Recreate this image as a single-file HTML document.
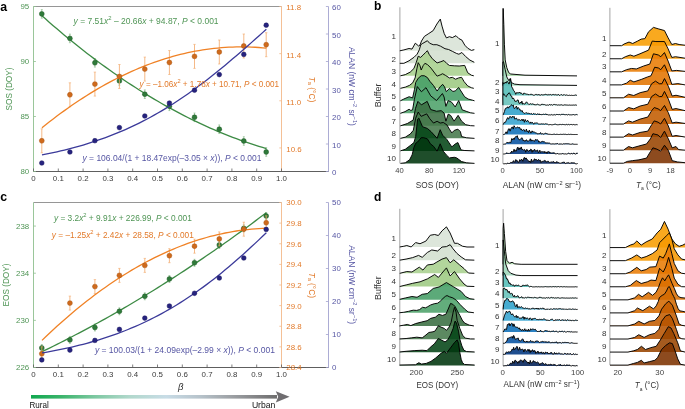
<!DOCTYPE html>
<html><head><meta charset="utf-8"><style>
html,body{margin:0;padding:0;background:#fff;}
svg{display:block;font-family:'Liberation Sans', sans-serif;will-change:transform;}
</style></head><body>
<svg width="685" height="409" viewBox="0 0 685 409" font-family="Liberation Sans, sans-serif">
<rect width="685" height="409" fill="#fff"/>
<line x1="33.5" y1="6.5" x2="281.5" y2="6.5" stroke="#8a8a8a" stroke-width="0.9" />
<line x1="33.5" y1="6.5" x2="33.5" y2="171.5" stroke="#8fbf8f" stroke-width="0.9" />
<line x1="281.5" y1="6.5" x2="281.5" y2="171.5" stroke="#f3b98a" stroke-width="0.9" />
<line x1="328.5" y1="6.5" x2="328.5" y2="171.5" stroke="#a3a3cf" stroke-width="0.9" />
<line x1="33.5" y1="171.5" x2="328.5" y2="171.5" stroke="#5e5e5e" stroke-width="1.0" />
<line x1="33.5" y1="171.5" x2="33.5" y2="168.5" stroke="#555" stroke-width="0.75" />
<text x="33.5" y="180.5" font-size="7.9" fill="#3a3a3a" text-anchor="middle" >0</text>
<line x1="58.3" y1="171.5" x2="58.3" y2="168.5" stroke="#555" stroke-width="0.75" />
<text x="58.3" y="180.5" font-size="7.9" fill="#3a3a3a" text-anchor="middle" >0.1</text>
<line x1="83.1" y1="171.5" x2="83.1" y2="168.5" stroke="#555" stroke-width="0.75" />
<text x="83.1" y="180.5" font-size="7.9" fill="#3a3a3a" text-anchor="middle" >0.2</text>
<line x1="107.9" y1="171.5" x2="107.9" y2="168.5" stroke="#555" stroke-width="0.75" />
<text x="107.9" y="180.5" font-size="7.9" fill="#3a3a3a" text-anchor="middle" >0.3</text>
<line x1="132.7" y1="171.5" x2="132.7" y2="168.5" stroke="#555" stroke-width="0.75" />
<text x="132.7" y="180.5" font-size="7.9" fill="#3a3a3a" text-anchor="middle" >0.4</text>
<line x1="157.5" y1="171.5" x2="157.5" y2="168.5" stroke="#555" stroke-width="0.75" />
<text x="157.5" y="180.5" font-size="7.9" fill="#3a3a3a" text-anchor="middle" >0.5</text>
<line x1="182.3" y1="171.5" x2="182.3" y2="168.5" stroke="#555" stroke-width="0.75" />
<text x="182.3" y="180.5" font-size="7.9" fill="#3a3a3a" text-anchor="middle" >0.6</text>
<line x1="207.1" y1="171.5" x2="207.1" y2="168.5" stroke="#555" stroke-width="0.75" />
<text x="207.1" y="180.5" font-size="7.9" fill="#3a3a3a" text-anchor="middle" >0.7</text>
<line x1="231.9" y1="171.5" x2="231.9" y2="168.5" stroke="#555" stroke-width="0.75" />
<text x="231.9" y="180.5" font-size="7.9" fill="#3a3a3a" text-anchor="middle" >0.8</text>
<line x1="256.7" y1="171.5" x2="256.7" y2="168.5" stroke="#555" stroke-width="0.75" />
<text x="256.7" y="180.5" font-size="7.9" fill="#3a3a3a" text-anchor="middle" >0.9</text>
<line x1="281.5" y1="171.5" x2="281.5" y2="168.5" stroke="#555" stroke-width="0.75" />
<text x="281.5" y="180.5" font-size="7.9" fill="#3a3a3a" text-anchor="middle" >1.0</text>
<line x1="33.5" y1="171.5" x2="35.9" y2="171.5" stroke="#8fbf8f" stroke-width="0.8" />
<text x="29.2" y="174.4" font-size="7.9" fill="#4f9555" text-anchor="end" >80</text>
<line x1="33.5" y1="116.5" x2="35.9" y2="116.5" stroke="#8fbf8f" stroke-width="0.8" />
<text x="29.2" y="119.4" font-size="7.9" fill="#4f9555" text-anchor="end" >85</text>
<line x1="33.5" y1="61.5" x2="35.9" y2="61.5" stroke="#8fbf8f" stroke-width="0.8" />
<text x="29.2" y="64.4" font-size="7.9" fill="#4f9555" text-anchor="end" >90</text>
<line x1="33.5" y1="6.5" x2="35.9" y2="6.5" stroke="#8fbf8f" stroke-width="0.8" />
<text x="29.2" y="9.4" font-size="7.9" fill="#4f9555" text-anchor="end" >95</text>
<line x1="279.3" y1="147.93" x2="281.5" y2="147.93" stroke="#f3b98a" stroke-width="0.8" />
<text x="286.3" y="151.83" font-size="7.9" fill="#e27a2a" text-anchor="start" >10.6</text>
<line x1="279.3" y1="100.79" x2="281.5" y2="100.79" stroke="#f3b98a" stroke-width="0.8" />
<text x="286.3" y="104.69" font-size="7.9" fill="#e27a2a" text-anchor="start" >11.0</text>
<line x1="279.3" y1="53.64" x2="281.5" y2="53.64" stroke="#f3b98a" stroke-width="0.8" />
<text x="286.3" y="57.54" font-size="7.9" fill="#e27a2a" text-anchor="start" >11.4</text>
<line x1="279.3" y1="6.5" x2="281.5" y2="6.5" stroke="#f3b98a" stroke-width="0.8" />
<text x="286.3" y="10.4" font-size="7.9" fill="#e27a2a" text-anchor="start" >11.8</text>
<line x1="325.9" y1="171.5" x2="328.5" y2="171.5" stroke="#a3a3cf" stroke-width="0.8" />
<text x="332.1" y="175" font-size="7.9" fill="#5656a3" text-anchor="start" >0</text>
<line x1="325.9" y1="144" x2="328.5" y2="144" stroke="#a3a3cf" stroke-width="0.8" />
<text x="332.1" y="147.5" font-size="7.9" fill="#5656a3" text-anchor="start" >10</text>
<line x1="325.9" y1="116.5" x2="328.5" y2="116.5" stroke="#a3a3cf" stroke-width="0.8" />
<text x="332.1" y="120" font-size="7.9" fill="#5656a3" text-anchor="start" >20</text>
<line x1="325.9" y1="89" x2="328.5" y2="89" stroke="#a3a3cf" stroke-width="0.8" />
<text x="332.1" y="92.5" font-size="7.9" fill="#5656a3" text-anchor="start" >30</text>
<line x1="325.9" y1="61.5" x2="328.5" y2="61.5" stroke="#a3a3cf" stroke-width="0.8" />
<text x="332.1" y="65" font-size="7.9" fill="#5656a3" text-anchor="start" >40</text>
<line x1="325.9" y1="34" x2="328.5" y2="34" stroke="#a3a3cf" stroke-width="0.8" />
<text x="332.1" y="37.5" font-size="7.9" fill="#5656a3" text-anchor="start" >50</text>
<line x1="325.9" y1="6.5" x2="328.5" y2="6.5" stroke="#a3a3cf" stroke-width="0.8" />
<text x="332.1" y="10" font-size="7.9" fill="#5656a3" text-anchor="start" >60</text>
<text x="12.2" y="89" font-size="9.4" fill="#4f9555" text-anchor="middle" textLength="42.8" lengthAdjust="spacingAndGlyphs" transform="rotate(-90 12.2 89)" >SOS (DOY)</text>
<text x="312" y="89.5" font-size="9" fill="#e27a2a" text-anchor="middle" transform="rotate(90 312 89.5)" dominant-baseline="central" textLength="25.6" lengthAdjust="spacingAndGlyphs"><tspan font-style="italic">T</tspan><tspan font-size="6" dy="2">a</tspan><tspan dy="-2"> (°C)</tspan></text>
<text x="352.3" y="86.4" font-size="9" fill="#5656a3" text-anchor="middle" transform="rotate(90 352.3 86.4)" dominant-baseline="central" textLength="79" lengthAdjust="spacingAndGlyphs">ALAN (nW cm<tspan font-size="6" dy="-3">−2</tspan><tspan dy="3"> sr</tspan><tspan font-size="6" dy="-3">−1</tspan><tspan dy="3">)</tspan></text>
<line x1="41.8" y1="9.6" x2="41.8" y2="18.2" stroke="#86b886" stroke-width="0.8" />
<line x1="40.8" y1="9.6" x2="42.8" y2="9.6" stroke="#86b886" stroke-width="0.6" />
<line x1="40.8" y1="18.2" x2="42.8" y2="18.2" stroke="#86b886" stroke-width="0.6" />
<line x1="69.9" y1="34.1" x2="69.9" y2="42.7" stroke="#86b886" stroke-width="0.8" />
<line x1="68.9" y1="34.1" x2="70.9" y2="34.1" stroke="#86b886" stroke-width="0.6" />
<line x1="68.9" y1="42.7" x2="70.9" y2="42.7" stroke="#86b886" stroke-width="0.6" />
<line x1="94.9" y1="58.5" x2="94.9" y2="67.1" stroke="#86b886" stroke-width="0.8" />
<line x1="93.9" y1="58.5" x2="95.9" y2="58.5" stroke="#86b886" stroke-width="0.6" />
<line x1="93.9" y1="67.1" x2="95.9" y2="67.1" stroke="#86b886" stroke-width="0.6" />
<line x1="119.4" y1="76.6" x2="119.4" y2="85.2" stroke="#86b886" stroke-width="0.8" />
<line x1="118.4" y1="76.6" x2="120.4" y2="76.6" stroke="#86b886" stroke-width="0.6" />
<line x1="118.4" y1="85.2" x2="120.4" y2="85.2" stroke="#86b886" stroke-width="0.6" />
<line x1="144.8" y1="89.9" x2="144.8" y2="98.5" stroke="#86b886" stroke-width="0.8" />
<line x1="143.8" y1="89.9" x2="145.8" y2="89.9" stroke="#86b886" stroke-width="0.6" />
<line x1="143.8" y1="98.5" x2="145.8" y2="98.5" stroke="#86b886" stroke-width="0.6" />
<line x1="169.4" y1="102" x2="169.4" y2="110.6" stroke="#86b886" stroke-width="0.8" />
<line x1="168.4" y1="102" x2="170.4" y2="102" stroke="#86b886" stroke-width="0.6" />
<line x1="168.4" y1="110.6" x2="170.4" y2="110.6" stroke="#86b886" stroke-width="0.6" />
<line x1="194.5" y1="113" x2="194.5" y2="121.6" stroke="#86b886" stroke-width="0.8" />
<line x1="193.5" y1="113" x2="195.5" y2="113" stroke="#86b886" stroke-width="0.6" />
<line x1="193.5" y1="121.6" x2="195.5" y2="121.6" stroke="#86b886" stroke-width="0.6" />
<line x1="219.3" y1="124.9" x2="219.3" y2="133.5" stroke="#86b886" stroke-width="0.8" />
<line x1="218.3" y1="124.9" x2="220.3" y2="124.9" stroke="#86b886" stroke-width="0.6" />
<line x1="218.3" y1="133.5" x2="220.3" y2="133.5" stroke="#86b886" stroke-width="0.6" />
<line x1="243.8" y1="136.7" x2="243.8" y2="145.3" stroke="#86b886" stroke-width="0.8" />
<line x1="242.8" y1="136.7" x2="244.8" y2="136.7" stroke="#86b886" stroke-width="0.6" />
<line x1="242.8" y1="145.3" x2="244.8" y2="145.3" stroke="#86b886" stroke-width="0.6" />
<line x1="266.2" y1="147.7" x2="266.2" y2="156.3" stroke="#86b886" stroke-width="0.8" />
<line x1="265.2" y1="147.7" x2="267.2" y2="147.7" stroke="#86b886" stroke-width="0.6" />
<line x1="265.2" y1="156.3" x2="267.2" y2="156.3" stroke="#86b886" stroke-width="0.6" />
<polyline points="41.98,15.78 45.72,19.1 49.45,22.39 53.19,25.64 56.93,28.84 60.67,32.02 64.41,35.15 68.15,38.25 71.89,41.3 75.63,44.33 79.37,47.31 83.11,50.26 86.85,53.16 90.59,56.03 94.32,58.87 98.06,61.66 101.8,64.42 105.54,67.14 109.28,69.82 113.02,72.47 116.76,75.08 120.5,77.65 124.24,80.18 127.98,82.67 131.72,85.13 135.46,87.55 139.19,89.93 142.93,92.28 146.67,94.59 150.41,96.85 154.15,99.09 157.89,101.28 161.63,103.44 165.37,105.56 169.11,107.64 172.85,109.68 176.59,111.69 180.33,113.66 184.06,115.59 187.8,117.48 191.54,119.34 195.28,121.15 199.02,122.94 202.76,124.68 206.5,126.38 210.24,128.05 213.98,129.68 217.72,131.28 221.46,132.83 225.2,134.35 228.93,135.83 232.67,137.27 236.41,138.68 240.15,140.04 243.89,141.37 247.63,142.66 251.37,143.92 255.11,145.14 258.85,146.31 262.59,147.46 266.33,148.56" stroke="#3d8b45" stroke-width="1.3" fill="none" />
<circle cx="41.8" cy="13.9" r="2.45" fill="#2f7a3a" stroke="#1f5a27" stroke-width="0.5"/>
<circle cx="69.9" cy="38.4" r="2.45" fill="#2f7a3a" stroke="#1f5a27" stroke-width="0.5"/>
<circle cx="94.9" cy="62.8" r="2.45" fill="#2f7a3a" stroke="#1f5a27" stroke-width="0.5"/>
<circle cx="119.4" cy="80.9" r="2.45" fill="#2f7a3a" stroke="#1f5a27" stroke-width="0.5"/>
<circle cx="144.8" cy="94.2" r="2.45" fill="#2f7a3a" stroke="#1f5a27" stroke-width="0.5"/>
<circle cx="169.4" cy="106.3" r="2.45" fill="#2f7a3a" stroke="#1f5a27" stroke-width="0.5"/>
<circle cx="194.5" cy="117.3" r="2.45" fill="#2f7a3a" stroke="#1f5a27" stroke-width="0.5"/>
<circle cx="219.3" cy="129.2" r="2.45" fill="#2f7a3a" stroke="#1f5a27" stroke-width="0.5"/>
<circle cx="243.8" cy="141" r="2.45" fill="#2f7a3a" stroke="#1f5a27" stroke-width="0.5"/>
<circle cx="266.2" cy="152" r="2.45" fill="#2f7a3a" stroke="#1f5a27" stroke-width="0.5"/>
<line x1="41.8" y1="128.8" x2="41.8" y2="152.8" stroke="#f2a768" stroke-width="0.8" />
<line x1="40.6" y1="128.8" x2="43" y2="128.8" stroke="#f2a768" stroke-width="0.6" />
<line x1="40.6" y1="152.8" x2="43" y2="152.8" stroke="#f2a768" stroke-width="0.6" />
<line x1="69.9" y1="82.8" x2="69.9" y2="106.8" stroke="#f2a768" stroke-width="0.8" />
<line x1="68.7" y1="82.8" x2="71.1" y2="82.8" stroke="#f2a768" stroke-width="0.6" />
<line x1="68.7" y1="106.8" x2="71.1" y2="106.8" stroke="#f2a768" stroke-width="0.6" />
<line x1="94.9" y1="72.1" x2="94.9" y2="96.1" stroke="#f2a768" stroke-width="0.8" />
<line x1="93.7" y1="72.1" x2="96.1" y2="72.1" stroke="#f2a768" stroke-width="0.6" />
<line x1="93.7" y1="96.1" x2="96.1" y2="96.1" stroke="#f2a768" stroke-width="0.6" />
<line x1="119.4" y1="64.5" x2="119.4" y2="88.5" stroke="#f2a768" stroke-width="0.8" />
<line x1="118.2" y1="64.5" x2="120.6" y2="64.5" stroke="#f2a768" stroke-width="0.6" />
<line x1="118.2" y1="88.5" x2="120.6" y2="88.5" stroke="#f2a768" stroke-width="0.6" />
<line x1="144.8" y1="57.1" x2="144.8" y2="81.1" stroke="#f2a768" stroke-width="0.8" />
<line x1="143.6" y1="57.1" x2="146" y2="57.1" stroke="#f2a768" stroke-width="0.6" />
<line x1="143.6" y1="81.1" x2="146" y2="81.1" stroke="#f2a768" stroke-width="0.6" />
<line x1="169.4" y1="50.5" x2="169.4" y2="74.5" stroke="#f2a768" stroke-width="0.8" />
<line x1="168.2" y1="50.5" x2="170.6" y2="50.5" stroke="#f2a768" stroke-width="0.6" />
<line x1="168.2" y1="74.5" x2="170.6" y2="74.5" stroke="#f2a768" stroke-width="0.6" />
<line x1="194.5" y1="44.4" x2="194.5" y2="68.4" stroke="#f2a768" stroke-width="0.8" />
<line x1="193.3" y1="44.4" x2="195.7" y2="44.4" stroke="#f2a768" stroke-width="0.6" />
<line x1="193.3" y1="68.4" x2="195.7" y2="68.4" stroke="#f2a768" stroke-width="0.6" />
<line x1="219.3" y1="40" x2="219.3" y2="64" stroke="#f2a768" stroke-width="0.8" />
<line x1="218.1" y1="40" x2="220.5" y2="40" stroke="#f2a768" stroke-width="0.6" />
<line x1="218.1" y1="64" x2="220.5" y2="64" stroke="#f2a768" stroke-width="0.6" />
<line x1="243.8" y1="34" x2="243.8" y2="58" stroke="#f2a768" stroke-width="0.8" />
<line x1="242.6" y1="34" x2="245" y2="34" stroke="#f2a768" stroke-width="0.6" />
<line x1="242.6" y1="58" x2="245" y2="58" stroke="#f2a768" stroke-width="0.6" />
<line x1="266.2" y1="32.7" x2="266.2" y2="56.7" stroke="#f2a768" stroke-width="0.8" />
<line x1="265" y1="32.7" x2="267.4" y2="32.7" stroke="#f2a768" stroke-width="0.6" />
<line x1="265" y1="56.7" x2="267.4" y2="56.7" stroke="#f2a768" stroke-width="0.6" />
<polyline points="41.98,127.77 45.72,124.77 49.45,121.82 53.19,118.93 56.93,116.1 60.67,113.32 64.41,110.6 68.15,107.94 71.89,105.33 75.63,102.79 79.37,100.29 83.11,97.86 86.85,95.48 90.59,93.16 94.32,90.89 98.06,88.68 101.8,86.53 105.54,84.44 109.28,82.4 113.02,80.42 116.76,78.5 120.5,76.63 124.24,74.82 127.98,73.07 131.72,71.37 135.46,69.73 139.19,68.15 142.93,66.62 146.67,65.15 150.41,63.74 154.15,62.38 157.89,61.09 161.63,59.84 165.37,58.66 169.11,57.53 172.85,56.46 176.59,55.44 180.33,54.49 184.06,53.59 187.8,52.74 191.54,51.96 195.28,51.23 199.02,50.55 202.76,49.94 206.5,49.38 210.24,48.87 213.98,48.43 217.72,48.04 221.46,47.71 225.2,47.43 228.93,47.21 232.67,47.05 236.41,46.95 240.15,46.9 243.89,46.91 247.63,46.97 251.37,47.09 255.11,47.27 258.85,47.51 262.59,47.8 266.33,48.15" stroke="#f08226" stroke-width="1.3" fill="none" />
<circle cx="41.8" cy="140.8" r="2.45" fill="#cf6a1c" stroke="#a8520f" stroke-width="0.5"/>
<circle cx="69.9" cy="94.8" r="2.45" fill="#cf6a1c" stroke="#a8520f" stroke-width="0.5"/>
<circle cx="94.9" cy="84.1" r="2.45" fill="#cf6a1c" stroke="#a8520f" stroke-width="0.5"/>
<circle cx="119.4" cy="76.5" r="2.45" fill="#cf6a1c" stroke="#a8520f" stroke-width="0.5"/>
<circle cx="144.8" cy="69.1" r="2.45" fill="#cf6a1c" stroke="#a8520f" stroke-width="0.5"/>
<circle cx="169.4" cy="62.5" r="2.45" fill="#cf6a1c" stroke="#a8520f" stroke-width="0.5"/>
<circle cx="194.5" cy="56.4" r="2.45" fill="#cf6a1c" stroke="#a8520f" stroke-width="0.5"/>
<circle cx="219.3" cy="52" r="2.45" fill="#cf6a1c" stroke="#a8520f" stroke-width="0.5"/>
<circle cx="243.8" cy="46" r="2.45" fill="#cf6a1c" stroke="#a8520f" stroke-width="0.5"/>
<circle cx="266.2" cy="44.7" r="2.45" fill="#cf6a1c" stroke="#a8520f" stroke-width="0.5"/>
<polyline points="41.98,154.93 45.72,154.2 49.45,153.43 53.19,152.64 56.93,151.81 60.67,150.95 64.41,150.05 68.15,149.12 71.89,148.15 75.63,147.14 79.37,146.1 83.11,145.01 86.85,143.88 90.59,142.71 94.32,141.49 98.06,140.23 101.8,138.92 105.54,137.57 109.28,136.16 113.02,134.71 116.76,133.21 120.5,131.65 124.24,130.04 127.98,128.38 131.72,126.66 135.46,124.88 139.19,123.05 142.93,121.17 146.67,119.22 150.41,117.22 154.15,115.16 157.89,113.04 161.63,110.86 165.37,108.62 169.11,106.32 172.85,103.96 176.59,101.54 180.33,99.07 184.06,96.54 187.8,93.94 191.54,91.3 195.28,88.6 199.02,85.84 202.76,83.03 206.5,80.17 210.24,77.26 213.98,74.3 217.72,71.3 221.46,68.25 225.2,65.16 228.93,62.03 232.67,58.87 236.41,55.67 240.15,52.45 243.89,49.19 247.63,45.92 251.37,42.62 255.11,39.3 258.85,35.97 262.59,32.63 266.33,29.28" stroke="#3b3a9a" stroke-width="1.3" fill="none" />
<circle cx="41.8" cy="163" r="2.35" fill="#26237f" stroke="#18155e" stroke-width="0.5"/>
<circle cx="69.9" cy="152" r="2.35" fill="#26237f" stroke="#18155e" stroke-width="0.5"/>
<circle cx="94.9" cy="140.7" r="2.35" fill="#26237f" stroke="#18155e" stroke-width="0.5"/>
<circle cx="119.4" cy="127.6" r="2.35" fill="#26237f" stroke="#18155e" stroke-width="0.5"/>
<circle cx="144.8" cy="116" r="2.35" fill="#26237f" stroke="#18155e" stroke-width="0.5"/>
<circle cx="169.4" cy="103.1" r="2.35" fill="#26237f" stroke="#18155e" stroke-width="0.5"/>
<circle cx="194.5" cy="90.2" r="2.35" fill="#26237f" stroke="#18155e" stroke-width="0.5"/>
<circle cx="219.3" cy="74.6" r="2.35" fill="#26237f" stroke="#18155e" stroke-width="0.5"/>
<circle cx="243.8" cy="54.4" r="2.35" fill="#26237f" stroke="#18155e" stroke-width="0.5"/>
<circle cx="266.2" cy="25.2" r="2.35" fill="#26237f" stroke="#18155e" stroke-width="0.5"/>
<text x="73.6" y="24.2" font-size="8.4" fill="#4f9555" textLength="145" lengthAdjust="spacingAndGlyphs"><tspan font-style="italic">y</tspan> = 7.51<tspan font-style="italic">x</tspan><tspan font-size="5.8" dy="-4.2">2</tspan><tspan dy="4.2"> – 20.66</tspan><tspan font-style="italic">x</tspan> + 94.87, <tspan font-style="italic">P</tspan> &lt; 0.001</text>
<text x="139.6" y="87" font-size="8.4" fill="#e27a2a" textLength="139.5" lengthAdjust="spacingAndGlyphs"><tspan font-style="italic">y</tspan> = –1.06<tspan font-style="italic">x</tspan><tspan font-size="5.8" dy="-4.2">2</tspan><tspan dy="4.2"> + 1.78</tspan><tspan font-style="italic">x</tspan> + 10.71, <tspan font-style="italic">P</tspan> &lt; 0.001</text>
<text x="82.5" y="160.6" font-size="8.4" fill="#5656a3" textLength="179" lengthAdjust="spacingAndGlyphs"><tspan font-style="italic">y</tspan> = 106.04/(1 + 18.47exp(–3.05 × <tspan font-style="italic">x</tspan>)), <tspan font-style="italic">P</tspan> &lt; 0.001</text>
<text x="0.3" y="10.6" font-size="12.3" fill="#000" text-anchor="start" font-weight="bold" >a</text>
<line x1="33.5" y1="202.5" x2="281.5" y2="202.5" stroke="#8a8a8a" stroke-width="0.9" />
<line x1="33.5" y1="202.5" x2="33.5" y2="367.5" stroke="#8fbf8f" stroke-width="0.9" />
<line x1="281.5" y1="202.5" x2="281.5" y2="367.5" stroke="#f3b98a" stroke-width="0.9" />
<line x1="328.5" y1="202.5" x2="328.5" y2="367.5" stroke="#a3a3cf" stroke-width="0.9" />
<line x1="33.5" y1="367.5" x2="328.5" y2="367.5" stroke="#5e5e5e" stroke-width="1.0" />
<line x1="33.5" y1="367.5" x2="33.5" y2="364.5" stroke="#555" stroke-width="0.75" />
<text x="33.5" y="376.5" font-size="7.9" fill="#3a3a3a" text-anchor="middle" >0</text>
<line x1="58.3" y1="367.5" x2="58.3" y2="364.5" stroke="#555" stroke-width="0.75" />
<text x="58.3" y="376.5" font-size="7.9" fill="#3a3a3a" text-anchor="middle" >0.1</text>
<line x1="83.1" y1="367.5" x2="83.1" y2="364.5" stroke="#555" stroke-width="0.75" />
<text x="83.1" y="376.5" font-size="7.9" fill="#3a3a3a" text-anchor="middle" >0.2</text>
<line x1="107.9" y1="367.5" x2="107.9" y2="364.5" stroke="#555" stroke-width="0.75" />
<text x="107.9" y="376.5" font-size="7.9" fill="#3a3a3a" text-anchor="middle" >0.3</text>
<line x1="132.7" y1="367.5" x2="132.7" y2="364.5" stroke="#555" stroke-width="0.75" />
<text x="132.7" y="376.5" font-size="7.9" fill="#3a3a3a" text-anchor="middle" >0.4</text>
<line x1="157.5" y1="367.5" x2="157.5" y2="364.5" stroke="#555" stroke-width="0.75" />
<text x="157.5" y="376.5" font-size="7.9" fill="#3a3a3a" text-anchor="middle" >0.5</text>
<line x1="182.3" y1="367.5" x2="182.3" y2="364.5" stroke="#555" stroke-width="0.75" />
<text x="182.3" y="376.5" font-size="7.9" fill="#3a3a3a" text-anchor="middle" >0.6</text>
<line x1="207.1" y1="367.5" x2="207.1" y2="364.5" stroke="#555" stroke-width="0.75" />
<text x="207.1" y="376.5" font-size="7.9" fill="#3a3a3a" text-anchor="middle" >0.7</text>
<line x1="231.9" y1="367.5" x2="231.9" y2="364.5" stroke="#555" stroke-width="0.75" />
<text x="231.9" y="376.5" font-size="7.9" fill="#3a3a3a" text-anchor="middle" >0.8</text>
<line x1="256.7" y1="367.5" x2="256.7" y2="364.5" stroke="#555" stroke-width="0.75" />
<text x="256.7" y="376.5" font-size="7.9" fill="#3a3a3a" text-anchor="middle" >0.9</text>
<line x1="281.5" y1="367.5" x2="281.5" y2="364.5" stroke="#555" stroke-width="0.75" />
<text x="281.5" y="376.5" font-size="7.9" fill="#3a3a3a" text-anchor="middle" >1.0</text>
<line x1="33.5" y1="367.5" x2="35.9" y2="367.5" stroke="#8fbf8f" stroke-width="0.8" />
<text x="29.2" y="370.4" font-size="7.9" fill="#4f9555" text-anchor="end" >226</text>
<line x1="33.5" y1="320.36" x2="35.9" y2="320.36" stroke="#8fbf8f" stroke-width="0.8" />
<text x="29.2" y="323.26" font-size="7.9" fill="#4f9555" text-anchor="end" >230</text>
<line x1="33.5" y1="273.21" x2="35.9" y2="273.21" stroke="#8fbf8f" stroke-width="0.8" />
<text x="29.2" y="276.11" font-size="7.9" fill="#4f9555" text-anchor="end" >234</text>
<line x1="33.5" y1="226.07" x2="35.9" y2="226.07" stroke="#8fbf8f" stroke-width="0.8" />
<text x="29.2" y="228.97" font-size="7.9" fill="#4f9555" text-anchor="end" >238</text>
<line x1="279.3" y1="367.5" x2="281.5" y2="367.5" stroke="#f3b98a" stroke-width="0.8" />
<text x="286.3" y="370.4" font-size="7.9" fill="#e27a2a" text-anchor="start" >28.4</text>
<line x1="279.3" y1="346.87" x2="281.5" y2="346.87" stroke="#f3b98a" stroke-width="0.8" />
<text x="286.3" y="349.77" font-size="7.9" fill="#e27a2a" text-anchor="start" >28.6</text>
<line x1="279.3" y1="326.25" x2="281.5" y2="326.25" stroke="#f3b98a" stroke-width="0.8" />
<text x="286.3" y="329.15" font-size="7.9" fill="#e27a2a" text-anchor="start" >28.8</text>
<line x1="279.3" y1="305.62" x2="281.5" y2="305.62" stroke="#f3b98a" stroke-width="0.8" />
<text x="286.3" y="308.52" font-size="7.9" fill="#e27a2a" text-anchor="start" >29.0</text>
<line x1="279.3" y1="285" x2="281.5" y2="285" stroke="#f3b98a" stroke-width="0.8" />
<text x="286.3" y="287.9" font-size="7.9" fill="#e27a2a" text-anchor="start" >29.2</text>
<line x1="279.3" y1="264.38" x2="281.5" y2="264.38" stroke="#f3b98a" stroke-width="0.8" />
<text x="286.3" y="267.28" font-size="7.9" fill="#e27a2a" text-anchor="start" >29.4</text>
<line x1="279.3" y1="243.75" x2="281.5" y2="243.75" stroke="#f3b98a" stroke-width="0.8" />
<text x="286.3" y="246.65" font-size="7.9" fill="#e27a2a" text-anchor="start" >29.6</text>
<line x1="279.3" y1="223.12" x2="281.5" y2="223.12" stroke="#f3b98a" stroke-width="0.8" />
<text x="286.3" y="226.02" font-size="7.9" fill="#e27a2a" text-anchor="start" >29.8</text>
<line x1="279.3" y1="202.5" x2="281.5" y2="202.5" stroke="#f3b98a" stroke-width="0.8" />
<text x="286.3" y="205.4" font-size="7.9" fill="#e27a2a" text-anchor="start" >30.0</text>
<line x1="325.9" y1="367.5" x2="328.5" y2="367.5" stroke="#a3a3cf" stroke-width="0.8" />
<text x="332.1" y="370" font-size="7.9" fill="#5656a3" text-anchor="start" >0</text>
<line x1="325.9" y1="334.5" x2="328.5" y2="334.5" stroke="#a3a3cf" stroke-width="0.8" />
<text x="332.1" y="337" font-size="7.9" fill="#5656a3" text-anchor="start" >10</text>
<line x1="325.9" y1="301.5" x2="328.5" y2="301.5" stroke="#a3a3cf" stroke-width="0.8" />
<text x="332.1" y="304" font-size="7.9" fill="#5656a3" text-anchor="start" >20</text>
<line x1="325.9" y1="268.5" x2="328.5" y2="268.5" stroke="#a3a3cf" stroke-width="0.8" />
<text x="332.1" y="271" font-size="7.9" fill="#5656a3" text-anchor="start" >30</text>
<line x1="325.9" y1="235.5" x2="328.5" y2="235.5" stroke="#a3a3cf" stroke-width="0.8" />
<text x="332.1" y="238" font-size="7.9" fill="#5656a3" text-anchor="start" >40</text>
<line x1="325.9" y1="202.5" x2="328.5" y2="202.5" stroke="#a3a3cf" stroke-width="0.8" />
<text x="332.1" y="205" font-size="7.9" fill="#5656a3" text-anchor="start" >50</text>
<text x="8.5" y="285" font-size="9.4" fill="#4f9555" text-anchor="middle" textLength="42.8" lengthAdjust="spacingAndGlyphs" transform="rotate(-90 8.5 285)" >EOS (DOY)</text>
<text x="312" y="285.3" font-size="9" fill="#e27a2a" text-anchor="middle" transform="rotate(90 312 285.3)" dominant-baseline="central" textLength="25.6" lengthAdjust="spacingAndGlyphs"><tspan font-style="italic">T</tspan><tspan font-size="6" dy="2">a</tspan><tspan dy="-2"> (°C)</tspan></text>
<text x="352.3" y="284.7" font-size="9" fill="#5656a3" text-anchor="middle" transform="rotate(90 352.3 284.7)" dominant-baseline="central" textLength="79" lengthAdjust="spacingAndGlyphs">ALAN (nW cm<tspan font-size="6" dy="-3">−2</tspan><tspan dy="3"> sr</tspan><tspan font-size="6" dy="-3">−1</tspan><tspan dy="3">)</tspan></text>
<line x1="41.8" y1="344.5" x2="41.8" y2="351.5" stroke="#86b886" stroke-width="0.8" />
<line x1="40.8" y1="344.5" x2="42.8" y2="344.5" stroke="#86b886" stroke-width="0.6" />
<line x1="40.8" y1="351.5" x2="42.8" y2="351.5" stroke="#86b886" stroke-width="0.6" />
<line x1="69.9" y1="336.4" x2="69.9" y2="343.4" stroke="#86b886" stroke-width="0.8" />
<line x1="68.9" y1="336.4" x2="70.9" y2="336.4" stroke="#86b886" stroke-width="0.6" />
<line x1="68.9" y1="343.4" x2="70.9" y2="343.4" stroke="#86b886" stroke-width="0.6" />
<line x1="94.9" y1="324" x2="94.9" y2="331" stroke="#86b886" stroke-width="0.8" />
<line x1="93.9" y1="324" x2="95.9" y2="324" stroke="#86b886" stroke-width="0.6" />
<line x1="93.9" y1="331" x2="95.9" y2="331" stroke="#86b886" stroke-width="0.6" />
<line x1="119.4" y1="307.8" x2="119.4" y2="314.8" stroke="#86b886" stroke-width="0.8" />
<line x1="118.4" y1="307.8" x2="120.4" y2="307.8" stroke="#86b886" stroke-width="0.6" />
<line x1="118.4" y1="314.8" x2="120.4" y2="314.8" stroke="#86b886" stroke-width="0.6" />
<line x1="144.8" y1="292.8" x2="144.8" y2="299.8" stroke="#86b886" stroke-width="0.8" />
<line x1="143.8" y1="292.8" x2="145.8" y2="292.8" stroke="#86b886" stroke-width="0.6" />
<line x1="143.8" y1="299.8" x2="145.8" y2="299.8" stroke="#86b886" stroke-width="0.6" />
<line x1="169.4" y1="275.5" x2="169.4" y2="282.5" stroke="#86b886" stroke-width="0.8" />
<line x1="168.4" y1="275.5" x2="170.4" y2="275.5" stroke="#86b886" stroke-width="0.6" />
<line x1="168.4" y1="282.5" x2="170.4" y2="282.5" stroke="#86b886" stroke-width="0.6" />
<line x1="194.5" y1="259.3" x2="194.5" y2="266.3" stroke="#86b886" stroke-width="0.8" />
<line x1="193.5" y1="259.3" x2="195.5" y2="259.3" stroke="#86b886" stroke-width="0.6" />
<line x1="193.5" y1="266.3" x2="195.5" y2="266.3" stroke="#86b886" stroke-width="0.6" />
<line x1="219.3" y1="241.5" x2="219.3" y2="248.5" stroke="#86b886" stroke-width="0.8" />
<line x1="218.3" y1="241.5" x2="220.3" y2="241.5" stroke="#86b886" stroke-width="0.6" />
<line x1="218.3" y1="248.5" x2="220.3" y2="248.5" stroke="#86b886" stroke-width="0.6" />
<line x1="243.8" y1="224.9" x2="243.8" y2="231.9" stroke="#86b886" stroke-width="0.8" />
<line x1="242.8" y1="224.9" x2="244.8" y2="224.9" stroke="#86b886" stroke-width="0.6" />
<line x1="242.8" y1="231.9" x2="244.8" y2="231.9" stroke="#86b886" stroke-width="0.6" />
<line x1="266.2" y1="212.5" x2="266.2" y2="219.5" stroke="#86b886" stroke-width="0.8" />
<line x1="265.2" y1="212.5" x2="267.2" y2="212.5" stroke="#86b886" stroke-width="0.6" />
<line x1="265.2" y1="219.5" x2="267.2" y2="219.5" stroke="#86b886" stroke-width="0.6" />
<polyline points="41.98,351.7 45.72,349.89 49.45,348.06 53.19,346.22 56.93,344.35 60.67,342.48 64.41,340.58 68.15,338.67 71.89,336.74 75.63,334.79 79.37,332.83 83.11,330.84 86.85,328.84 90.59,326.83 94.32,324.8 98.06,322.75 101.8,320.68 105.54,318.59 109.28,316.49 113.02,314.37 116.76,312.24 120.5,310.08 124.24,307.91 127.98,305.72 131.72,303.52 135.46,301.3 139.19,299.06 142.93,296.8 146.67,294.53 150.41,292.24 154.15,289.93 157.89,287.61 161.63,285.26 165.37,282.9 169.11,280.53 172.85,278.13 176.59,275.72 180.33,273.3 184.06,270.85 187.8,268.39 191.54,265.91 195.28,263.41 199.02,260.9 202.76,258.37 206.5,255.82 210.24,253.26 213.98,250.67 217.72,248.07 221.46,245.46 225.2,242.82 228.93,240.17 232.67,237.5 236.41,234.82 240.15,232.12 243.89,229.4 247.63,226.66 251.37,223.91 255.11,221.14 258.85,218.35 262.59,215.54 266.33,212.72" stroke="#3d8b45" stroke-width="1.3" fill="none" />
<circle cx="41.8" cy="348" r="2.45" fill="#2f7a3a" stroke="#1f5a27" stroke-width="0.5"/>
<circle cx="69.9" cy="339.9" r="2.45" fill="#2f7a3a" stroke="#1f5a27" stroke-width="0.5"/>
<circle cx="94.9" cy="327.5" r="2.45" fill="#2f7a3a" stroke="#1f5a27" stroke-width="0.5"/>
<circle cx="119.4" cy="311.3" r="2.45" fill="#2f7a3a" stroke="#1f5a27" stroke-width="0.5"/>
<circle cx="144.8" cy="296.3" r="2.45" fill="#2f7a3a" stroke="#1f5a27" stroke-width="0.5"/>
<circle cx="169.4" cy="279" r="2.45" fill="#2f7a3a" stroke="#1f5a27" stroke-width="0.5"/>
<circle cx="194.5" cy="262.8" r="2.45" fill="#2f7a3a" stroke="#1f5a27" stroke-width="0.5"/>
<circle cx="219.3" cy="245" r="2.45" fill="#2f7a3a" stroke="#1f5a27" stroke-width="0.5"/>
<circle cx="243.8" cy="228.4" r="2.45" fill="#2f7a3a" stroke="#1f5a27" stroke-width="0.5"/>
<circle cx="266.2" cy="216" r="2.45" fill="#2f7a3a" stroke="#1f5a27" stroke-width="0.5"/>
<line x1="41.8" y1="346.8" x2="41.8" y2="360.8" stroke="#f2a768" stroke-width="0.8" />
<line x1="40.6" y1="346.8" x2="43" y2="346.8" stroke="#f2a768" stroke-width="0.6" />
<line x1="40.6" y1="360.8" x2="43" y2="360.8" stroke="#f2a768" stroke-width="0.6" />
<line x1="69.9" y1="296.1" x2="69.9" y2="310.1" stroke="#f2a768" stroke-width="0.8" />
<line x1="68.7" y1="296.1" x2="71.1" y2="296.1" stroke="#f2a768" stroke-width="0.6" />
<line x1="68.7" y1="310.1" x2="71.1" y2="310.1" stroke="#f2a768" stroke-width="0.6" />
<line x1="94.9" y1="279.6" x2="94.9" y2="293.6" stroke="#f2a768" stroke-width="0.8" />
<line x1="93.7" y1="279.6" x2="96.1" y2="279.6" stroke="#f2a768" stroke-width="0.6" />
<line x1="93.7" y1="293.6" x2="96.1" y2="293.6" stroke="#f2a768" stroke-width="0.6" />
<line x1="119.4" y1="268.4" x2="119.4" y2="282.4" stroke="#f2a768" stroke-width="0.8" />
<line x1="118.2" y1="268.4" x2="120.6" y2="268.4" stroke="#f2a768" stroke-width="0.6" />
<line x1="118.2" y1="282.4" x2="120.6" y2="282.4" stroke="#f2a768" stroke-width="0.6" />
<line x1="144.8" y1="258.4" x2="144.8" y2="272.4" stroke="#f2a768" stroke-width="0.8" />
<line x1="143.6" y1="258.4" x2="146" y2="258.4" stroke="#f2a768" stroke-width="0.6" />
<line x1="143.6" y1="272.4" x2="146" y2="272.4" stroke="#f2a768" stroke-width="0.6" />
<line x1="169.4" y1="248.7" x2="169.4" y2="262.7" stroke="#f2a768" stroke-width="0.8" />
<line x1="168.2" y1="248.7" x2="170.6" y2="248.7" stroke="#f2a768" stroke-width="0.6" />
<line x1="168.2" y1="262.7" x2="170.6" y2="262.7" stroke="#f2a768" stroke-width="0.6" />
<line x1="194.5" y1="239.2" x2="194.5" y2="253.2" stroke="#f2a768" stroke-width="0.8" />
<line x1="193.3" y1="239.2" x2="195.7" y2="239.2" stroke="#f2a768" stroke-width="0.6" />
<line x1="193.3" y1="253.2" x2="195.7" y2="253.2" stroke="#f2a768" stroke-width="0.6" />
<line x1="219.3" y1="231.9" x2="219.3" y2="245.9" stroke="#f2a768" stroke-width="0.8" />
<line x1="218.1" y1="231.9" x2="220.5" y2="231.9" stroke="#f2a768" stroke-width="0.6" />
<line x1="218.1" y1="245.9" x2="220.5" y2="245.9" stroke="#f2a768" stroke-width="0.6" />
<line x1="243.8" y1="222.2" x2="243.8" y2="236.2" stroke="#f2a768" stroke-width="0.8" />
<line x1="242.6" y1="222.2" x2="245" y2="222.2" stroke="#f2a768" stroke-width="0.6" />
<line x1="242.6" y1="236.2" x2="245" y2="236.2" stroke="#f2a768" stroke-width="0.6" />
<line x1="266.2" y1="215.8" x2="266.2" y2="229.8" stroke="#f2a768" stroke-width="0.8" />
<line x1="265" y1="215.8" x2="267.4" y2="215.8" stroke="#f2a768" stroke-width="0.6" />
<line x1="265" y1="229.8" x2="267.4" y2="229.8" stroke="#f2a768" stroke-width="0.6" />
<polyline points="41.98,340.36 45.72,336.76 49.45,333.22 53.19,329.74 56.93,326.32 60.67,322.95 64.41,319.65 68.15,316.4 71.89,313.21 75.63,310.08 79.37,307.01 83.11,304 86.85,301.05 90.59,298.15 94.32,295.31 98.06,292.54 101.8,289.82 105.54,287.16 109.28,284.56 113.02,282.01 116.76,279.53 120.5,277.1 124.24,274.74 127.98,272.43 131.72,270.18 135.46,267.99 139.19,265.85 142.93,263.78 146.67,261.77 150.41,259.81 154.15,257.91 157.89,256.07 161.63,254.29 165.37,252.57 169.11,250.91 172.85,249.3 176.59,247.76 180.33,246.27 184.06,244.84 187.8,243.47 191.54,242.16 195.28,240.91 199.02,239.71 202.76,238.58 206.5,237.5 210.24,236.48 213.98,235.52 217.72,234.62 221.46,233.78 225.2,233 228.93,232.27 232.67,231.61 236.41,231 240.15,230.45 243.89,229.96 247.63,229.53 251.37,229.16 255.11,228.84 258.85,228.59 262.59,228.39 266.33,228.25" stroke="#f08226" stroke-width="1.3" fill="none" />
<circle cx="41.8" cy="353.8" r="2.45" fill="#cf6a1c" stroke="#a8520f" stroke-width="0.5"/>
<circle cx="69.9" cy="303.1" r="2.45" fill="#cf6a1c" stroke="#a8520f" stroke-width="0.5"/>
<circle cx="94.9" cy="286.6" r="2.45" fill="#cf6a1c" stroke="#a8520f" stroke-width="0.5"/>
<circle cx="119.4" cy="275.4" r="2.45" fill="#cf6a1c" stroke="#a8520f" stroke-width="0.5"/>
<circle cx="144.8" cy="265.4" r="2.45" fill="#cf6a1c" stroke="#a8520f" stroke-width="0.5"/>
<circle cx="169.4" cy="255.7" r="2.45" fill="#cf6a1c" stroke="#a8520f" stroke-width="0.5"/>
<circle cx="194.5" cy="246.2" r="2.45" fill="#cf6a1c" stroke="#a8520f" stroke-width="0.5"/>
<circle cx="219.3" cy="238.9" r="2.45" fill="#cf6a1c" stroke="#a8520f" stroke-width="0.5"/>
<circle cx="243.8" cy="229.2" r="2.45" fill="#cf6a1c" stroke="#a8520f" stroke-width="0.5"/>
<circle cx="266.2" cy="222.8" r="2.45" fill="#cf6a1c" stroke="#a8520f" stroke-width="0.5"/>
<polyline points="41.98,352.96 45.72,352.32 49.45,351.65 53.19,350.95 56.93,350.23 60.67,349.48 64.41,348.69 68.15,347.88 71.89,347.03 75.63,346.15 79.37,345.23 83.11,344.27 86.85,343.28 90.59,342.25 94.32,341.17 98.06,340.06 101.8,338.91 105.54,337.71 109.28,336.46 113.02,335.17 116.76,333.83 120.5,332.44 124.24,331 127.98,329.51 131.72,327.97 135.46,326.37 139.19,324.72 142.93,323.01 146.67,321.25 150.41,319.43 154.15,317.54 157.89,315.6 161.63,313.6 165.37,311.53 169.11,309.41 172.85,307.22 176.59,304.96 180.33,302.64 184.06,300.26 187.8,297.81 191.54,295.3 195.28,292.73 199.02,290.09 202.76,287.38 206.5,284.61 210.24,281.78 213.98,278.89 217.72,275.94 221.46,272.92 225.2,269.85 228.93,266.72 232.67,263.54 236.41,260.3 240.15,257.01 243.89,253.67 247.63,250.28 251.37,246.85 255.11,243.38 258.85,239.87 262.59,236.32 266.33,232.74" stroke="#3b3a9a" stroke-width="1.3" fill="none" />
<circle cx="41.8" cy="359.9" r="2.35" fill="#26237f" stroke="#18155e" stroke-width="0.5"/>
<circle cx="69.9" cy="350.1" r="2.35" fill="#26237f" stroke="#18155e" stroke-width="0.5"/>
<circle cx="94.9" cy="340.4" r="2.35" fill="#26237f" stroke="#18155e" stroke-width="0.5"/>
<circle cx="119.4" cy="329.4" r="2.35" fill="#26237f" stroke="#18155e" stroke-width="0.5"/>
<circle cx="144.8" cy="318.1" r="2.35" fill="#26237f" stroke="#18155e" stroke-width="0.5"/>
<circle cx="169.4" cy="306" r="2.35" fill="#26237f" stroke="#18155e" stroke-width="0.5"/>
<circle cx="194.5" cy="293.3" r="2.35" fill="#26237f" stroke="#18155e" stroke-width="0.5"/>
<circle cx="219.3" cy="278" r="2.35" fill="#26237f" stroke="#18155e" stroke-width="0.5"/>
<circle cx="243.8" cy="258" r="2.35" fill="#26237f" stroke="#18155e" stroke-width="0.5"/>
<circle cx="266.2" cy="229.4" r="2.35" fill="#26237f" stroke="#18155e" stroke-width="0.5"/>
<text x="53.9" y="220.8" font-size="8.4" fill="#4f9555" textLength="138" lengthAdjust="spacingAndGlyphs"><tspan font-style="italic">y</tspan> = 3.2<tspan font-style="italic">x</tspan><tspan font-size="5.8" dy="-4.2">2</tspan><tspan dy="4.2"> + 9.91</tspan><tspan font-style="italic">x</tspan> + 226.99, <tspan font-style="italic">P</tspan> &lt; 0.001</text>
<text x="51.8" y="237.9" font-size="8.4" fill="#e27a2a" textLength="142" lengthAdjust="spacingAndGlyphs"><tspan font-style="italic">y</tspan> = –1.25<tspan font-style="italic">x</tspan><tspan font-size="5.8" dy="-4.2">2</tspan><tspan dy="4.2"> + 2.42</tspan><tspan font-style="italic">x</tspan> + 28.58, <tspan font-style="italic">P</tspan> &lt; 0.001</text>
<text x="94.9" y="353.2" font-size="8.4" fill="#5656a3" textLength="180" lengthAdjust="spacingAndGlyphs"><tspan font-style="italic">y</tspan> = 100.03/(1 + 24.09exp(–2.99 × <tspan font-style="italic">x</tspan>)), <tspan font-style="italic">P</tspan> &lt; 0.001</text>
<text x="0.3" y="201.2" font-size="12.3" fill="#000" text-anchor="start" font-weight="bold" >c</text>
<text x="180.7" y="389.6" font-size="9.6" font-style="italic" fill="#333" text-anchor="middle">β</text>
<defs><linearGradient id="gr" x1="0" x2="1" y1="0" y2="0"><stop offset="0" stop-color="#10a84f"/><stop offset="0.12" stop-color="#3ab46a"/><stop offset="0.26" stop-color="#7dc8a1"/><stop offset="0.40" stop-color="#b1d8cc"/><stop offset="0.55" stop-color="#c8dce6"/><stop offset="0.69" stop-color="#b6c2ca"/><stop offset="0.81" stop-color="#9ea2a6"/><stop offset="0.93" stop-color="#808082"/><stop offset="1" stop-color="#6e6e6e"/></linearGradient></defs>
<rect x="31" y="395" width="246" height="3.6" fill="url(#gr)"/>
<polygon points="275.8,391.2 289.6,396.85 275.8,402.4 278.2,396.85" fill="#6f6d70"/>
<text x="29.5" y="407.8" font-size="9.2" fill="#111" text-anchor="start" textLength="19.3" lengthAdjust="spacingAndGlyphs" >Rural</text>
<text x="251.9" y="407.8" font-size="9.2" fill="#111" text-anchor="start" textLength="23.5" lengthAdjust="spacingAndGlyphs" >Urban</text>
<line x1="399.9" y1="7.3" x2="399.9" y2="163.39" stroke="#999999" stroke-width="0.9" />
<path d="M399.8,50.8 L399.8,50.8 L403.9,49.9 L409,48.5 L412,49.1 L415.3,43.2 L418.6,46 L420,45 L421.5,41 L424.4,36.4 L428.8,33.5 L433.2,30.6 L436.9,24 L440.3,19.1 L442,26.1 L444.2,33.5 L446.4,37.9 L449.4,36.7 L452.3,37.6 L456,35.7 L458.9,38.6 L461.9,40.1 L464.8,45.2 L467.7,48.2 L471.4,50.4 L474.3,49.6 L474.3,50.8 Z" fill="#d8e3d6" fill-opacity="0.88" stroke="none"/>
<polyline points="399.8,50.8 403.9,49.9 409,48.5 412,49.1 415.3,43.2 418.6,46 420,45 421.5,41 424.4,36.4 428.8,33.5 433.2,30.6 436.9,24 440.3,19.1 442,26.1 444.2,33.5 446.4,37.9 449.4,36.7 452.3,37.6 456,35.7 458.9,38.6 461.9,40.1 464.8,45.2 467.7,48.2 471.4,50.4 474.3,49.6" stroke="#000" stroke-width="0.95" fill="none" stroke-linejoin="round"/>
<path d="M399.8,63.31 L399.8,63.31 L403.9,63.31 L409,60.81 L414.1,57.21 L417.1,54.21 L419.3,49.81 L420.8,44.71 L422.2,43.71 L427.4,40.71 L429.6,43.21 L433.2,44.71 L436.9,44.71 L440.6,46.21 L445,48.71 L448.6,49.51 L452.3,51.31 L456.7,53.51 L458.9,54.21 L461.9,52.51 L465.5,56.41 L469.9,60.11 L474.3,62.31 L474.3,63.31 Z" fill="#d3dfcf" fill-opacity="0.88" stroke="none"/>
<polyline points="399.8,63.31 403.9,63.31 409,60.81 414.1,57.21 417.1,54.21 419.3,49.81 420.8,44.71 422.2,43.71 427.4,40.71 429.6,43.21 433.2,44.71 436.9,44.71 440.6,46.21 445,48.71 448.6,49.51 452.3,51.31 456.7,53.51 458.9,54.21 461.9,52.51 465.5,56.41 469.9,60.11 474.3,62.31" stroke="#000" stroke-width="0.95" fill="none" stroke-linejoin="round"/>
<path d="M400.4,75.82 L400.4,75.82 L405.3,74.62 L410.2,72.12 L413.9,68.52 L416.3,62.32 L418.2,56.22 L420.6,57.42 L423.1,55.02 L425.5,52.52 L427.4,50.72 L429.2,54.42 L432.3,58.72 L437.1,62.92 L440.8,61.72 L443.9,60.52 L446.9,63.62 L449.4,65.42 L454.3,65.82 L459.2,66.02 L464.7,65.42 L467.7,72.72 L471.4,75.22 L473.8,75.82 L473.8,75.82 Z" fill="#a9d08e" fill-opacity="0.88" stroke="none"/>
<polyline points="400.4,75.82 405.3,74.62 410.2,72.12 413.9,68.52 416.3,62.32 418.2,56.22 420.6,57.42 423.1,55.02 425.5,52.52 427.4,50.72 429.2,54.42 432.3,58.72 437.1,62.92 440.8,61.72 443.9,60.52 446.9,63.62 449.4,65.42 454.3,65.82 459.2,66.02 464.7,65.42 467.7,72.72 471.4,75.22 473.8,75.82" stroke="#000" stroke-width="0.95" fill="none" stroke-linejoin="round"/>
<path d="M400.4,88.33 L400.4,88.33 L405.3,87.13 L409.6,85.33 L412.7,82.83 L415.1,77.93 L417,68.13 L418.2,62.63 L420,65.73 L421.2,70.03 L423.1,65.73 L424.9,63.33 L427.4,64.53 L431,68.13 L434.7,73.03 L437.1,76.13 L440.2,74.93 L442.6,73.73 L445.7,75.53 L449.4,77.93 L452.4,77.33 L455.5,79.23 L458.6,77.93 L461.6,77.33 L464.1,81.63 L467.7,85.93 L471.4,87.73 L473.8,88.33 L473.8,88.33 Z" fill="#9dca82" fill-opacity="0.88" stroke="none"/>
<polyline points="400.4,88.33 405.3,87.13 409.6,85.33 412.7,82.83 415.1,77.93 417,68.13 418.2,62.63 420,65.73 421.2,70.03 423.1,65.73 424.9,63.33 427.4,64.53 431,68.13 434.7,73.03 437.1,76.13 440.2,74.93 442.6,73.73 445.7,75.53 449.4,77.93 452.4,77.33 455.5,79.23 458.6,77.93 461.6,77.33 464.1,81.63 467.7,85.93 471.4,87.73 473.8,88.33" stroke="#000" stroke-width="0.95" fill="none" stroke-linejoin="round"/>
<path d="M400.3,100.84 L400.3,100.84 L403.8,99.04 L409.1,96.74 L412.6,97.94 L414.4,89.74 L415.7,82.44 L418.2,78.24 L421.2,75.74 L424.3,75.74 L427.4,77.54 L429.8,81.24 L433.5,85.54 L437.1,91.04 L440.2,86.74 L442.6,84.34 L444.5,86.74 L446.3,91.64 L449.4,88.54 L452.9,91.44 L455.2,90.94 L458.7,87.54 L461.6,92.04 L464.6,96.74 L468.1,99.04 L472.7,100.24 L474.5,100.84 L474.5,100.84 Z" fill="#469e67" fill-opacity="0.88" stroke="none"/>
<polyline points="400.3,100.84 403.8,99.04 409.1,96.74 412.6,97.94 414.4,89.74 415.7,82.44 418.2,78.24 421.2,75.74 424.3,75.74 427.4,77.54 429.8,81.24 433.5,85.54 437.1,91.04 440.2,86.74 442.6,84.34 444.5,86.74 446.3,91.64 449.4,88.54 452.9,91.44 455.2,90.94 458.7,87.54 461.6,92.04 464.6,96.74 468.1,99.04 472.7,100.24 474.5,100.84" stroke="#000" stroke-width="0.95" fill="none" stroke-linejoin="round"/>
<path d="M400.3,113.35 L400.3,113.35 L405,111.65 L409.1,109.25 L410.8,110.45 L412.6,109.85 L414.4,99.35 L417.3,86.55 L421.4,91.75 L426,87.65 L430.7,95.85 L436.5,100.55 L442.4,93.55 L444.1,97.05 L445.9,106.35 L448.2,100.55 L451.7,102.25 L455.2,106.95 L458.7,100.55 L462.2,109.85 L466.9,111.55 L470.4,112.75 L474.5,113.35 L474.5,113.35 Z" fill="#4da26a" fill-opacity="0.88" stroke="none"/>
<polyline points="400.3,113.35 405,111.65 409.1,109.25 410.8,110.45 412.6,109.85 414.4,99.35 417.3,86.55 421.4,91.75 426,87.65 430.7,95.85 436.5,100.55 442.4,93.55 444.1,97.05 445.9,106.35 448.2,100.55 451.7,102.25 455.2,106.95 458.7,100.55 462.2,109.85 466.9,111.55 470.4,112.75 474.5,113.35" stroke="#000" stroke-width="0.95" fill="none" stroke-linejoin="round"/>
<path d="M400.3,125.86 L400.3,125.86 L407.3,123.56 L413.2,120.06 L415.5,108.36 L417.9,101.36 L421.4,104.86 L427.2,101.36 L430.7,109.56 L436.5,111.26 L441.2,110.66 L444.1,113.06 L445.9,121.16 L448.2,114.16 L450.6,115.36 L454.1,121.16 L458.1,115.36 L461.6,121.16 L465.7,124.66 L470.4,125.66 L474.5,125.86 L474.5,125.86 Z" fill="#3a6e42" fill-opacity="0.88" stroke="none"/>
<polyline points="400.3,125.86 407.3,123.56 413.2,120.06 415.5,108.36 417.9,101.36 421.4,104.86 427.2,101.36 430.7,109.56 436.5,111.26 441.2,110.66 444.1,113.06 445.9,121.16 448.2,114.16 450.6,115.36 454.1,121.16 458.1,115.36 461.6,121.16 465.7,124.66 470.4,125.66 474.5,125.86" stroke="#000" stroke-width="0.95" fill="none" stroke-linejoin="round"/>
<path d="M400.4,138.37 L400.4,138.37 L405.3,137.17 L410.2,134.07 L413.3,130.37 L415.7,118.17 L418.2,112.07 L421.2,116.37 L426.7,113.87 L429.8,118.77 L433.5,123.07 L437.1,121.27 L440.2,123.07 L443.3,122.47 L446.9,124.87 L449.4,129.17 L451.8,132.87 L454.3,130.37 L457.9,129.17 L460.4,131.67 L461.6,136.57 L466.5,137.77 L474.5,138.37 L474.5,138.37 Z" fill="#46794b" fill-opacity="0.88" stroke="none"/>
<polyline points="400.4,138.37 405.3,137.17 410.2,134.07 413.3,130.37 415.7,118.17 418.2,112.07 421.2,116.37 426.7,113.87 429.8,118.77 433.5,123.07 437.1,121.27 440.2,123.07 443.3,122.47 446.9,124.87 449.4,129.17 451.8,132.87 454.3,130.37 457.9,129.17 460.4,131.67 461.6,136.57 466.5,137.77 474.5,138.37" stroke="#000" stroke-width="0.95" fill="none" stroke-linejoin="round"/>
<path d="M400.4,150.88 L400.4,150.88 L405.3,149.28 L410.2,145.58 L413.9,142.58 L415.7,136.38 L417.6,119.28 L418.8,118.08 L422.5,126.68 L427.4,128.48 L431,131.58 L437.1,138.28 L440.2,129.68 L442.6,135.18 L446.9,139.48 L451.8,146.88 L455.5,143.78 L457.9,142.58 L461,149.88 L464.1,150.48 L474.5,150.88 L474.5,150.88 Z" fill="#044617" fill-opacity="0.88" stroke="none"/>
<polyline points="400.4,150.88 405.3,149.28 410.2,145.58 413.9,142.58 415.7,136.38 417.6,119.28 418.8,118.08 422.5,126.68 427.4,128.48 431,131.58 437.1,138.28 440.2,129.68 442.6,135.18 446.9,139.48 451.8,146.88 455.5,143.78 457.9,142.58 461,149.88 464.1,150.48 474.5,150.88" stroke="#000" stroke-width="0.95" fill="none" stroke-linejoin="round"/>
<path d="M400.4,163.39 L400.4,163.39 L405.3,162.79 L409.6,159.79 L412.1,154.89 L413.9,147.49 L415.7,143.29 L417.6,141.99 L421.2,137.69 L423.7,137.69 L427.4,138.89 L430.4,143.79 L433.5,146.29 L437.1,151.19 L440.2,143.79 L443.3,151.19 L446.3,154.89 L449.4,157.89 L454.3,157.29 L456.7,157.89 L461.6,161.59 L466.5,162.79 L474.5,163.39 L474.5,163.39 Z" fill="#00350e" fill-opacity="0.88" stroke="none"/>
<polyline points="400.4,163.39 405.3,162.79 409.6,159.79 412.1,154.89 413.9,147.49 415.7,143.29 417.6,141.99 421.2,137.69 423.7,137.69 427.4,138.89 430.4,143.79 433.5,146.29 437.1,151.19 440.2,143.79 443.3,151.19 446.3,154.89 449.4,157.89 454.3,157.29 456.7,157.89 461.6,161.59 466.5,162.79 474.5,163.39" stroke="#000" stroke-width="0.95" fill="none" stroke-linejoin="round"/>
<text x="396" y="39.1" font-size="8" fill="#333" text-anchor="end" >1</text>
<text x="396" y="61.6" font-size="8" fill="#333" text-anchor="end" >2</text>
<text x="396" y="73.8" font-size="8" fill="#333" text-anchor="end" >3</text>
<text x="396" y="86.6" font-size="8" fill="#333" text-anchor="end" >4</text>
<text x="396" y="98.8" font-size="8" fill="#333" text-anchor="end" >5</text>
<text x="396" y="111.3" font-size="8" fill="#333" text-anchor="end" >6</text>
<text x="396" y="123.8" font-size="8" fill="#333" text-anchor="end" >7</text>
<text x="396" y="136.3" font-size="8" fill="#333" text-anchor="end" >8</text>
<text x="396" y="148.7" font-size="8" fill="#333" text-anchor="end" >9</text>
<text x="396" y="161.2" font-size="8" fill="#333" text-anchor="end" >10</text>
<text x="399.5" y="172.9" font-size="7.6" fill="#444" text-anchor="middle" >40</text>
<text x="429.2" y="172.9" font-size="7.6" fill="#444" text-anchor="middle" >80</text>
<text x="459" y="172.9" font-size="7.6" fill="#444" text-anchor="middle" >120</text>
<text x="437.3" y="188" font-size="9.2" fill="#333" text-anchor="middle" textLength="43" lengthAdjust="spacingAndGlyphs" >SOS (DOY)</text>
<text x="378.5" y="95.4" font-size="9" fill="#333" text-anchor="middle" transform="rotate(-90 378.5 95.4)" dominant-baseline="central">Buffer</text>
<line x1="502.9" y1="8" x2="502.9" y2="163.83" stroke="#999999" stroke-width="0.9" />
<path d="M503,75.9 L503,75.9 L503,15.9 L503.2,8.5 L503.8,24.6 L504.4,44.2 L505.2,59.9 L506.8,67.7 L508.7,72.6 L510.7,74 L525,75.2 L577,75.9 L577,75.9 Z" fill="#a9d7a9" fill-opacity="0.88" stroke="none"/>
<polyline points="503,75.9 503,15.9 503.2,8.5 503.8,24.6 504.4,44.2 505.2,59.9 506.8,67.7 508.7,72.6 510.7,74 525,75.2 577,75.9" stroke="#000" stroke-width="0.95" fill="none" stroke-linejoin="round"/>
<path d="M502.9,85.67 L502.9,85.67 L502.9,62 L503.5,61.6 L505.1,69.3 L506.8,77 L509,80.8 L510.1,78.6 L511.2,82.5 L514.5,84.1 L520,84.7 L577,85.4 L577,85.67 Z" fill="#9dd6b9" fill-opacity="0.88" stroke="none"/>
<polyline points="502.9,85.67 502.9,62 503.5,61.6 505.1,69.3 506.8,77 509,80.8 510.1,78.6 511.2,82.5 514.5,84.1 520,84.7 577,85.4" stroke="#000" stroke-width="0.95" fill="none" stroke-linejoin="round"/>
<path d="M502.9,95.44 L502.9,95.44 L502.9,82.5 L503.75,84.12 L504.6,83 L505.33,82.01 L506.07,83.22 L506.8,81.4 L507.53,81.47 L508.27,82.78 L509,84.1 L509.8,81.8 L510.6,78.6 L511.7,86.9 L512.55,88.09 L513.4,90.2 L514.2,91.09 L515,92.5 L515.73,94.32 L516.47,92.66 L517.2,92.9 L518,92.6 L518.8,93.04 L519.6,92.03 L520.4,93.3 L521.1,92.71 L521.8,93.82 L522.5,94.31 L523.2,94.63 L523.9,92.97 L524.6,93.38 L525.3,93.68 L526,94.15 L526.7,94.11 L527.4,94.2 L528.14,94.81 L528.89,94.29 L529.63,95.05 L530.37,94.28 L531.11,94.34 L531.86,94.36 L532.6,94.7 L533.3,95.08 L534.01,95.32 L534.71,94.97 L535.42,94.46 L536.12,94.73 L536.83,94.39 L537.53,94.85 L538.24,94.91 L538.94,94.2 L539.65,95.25 L540.35,95.2 L541.06,94.67 L541.76,94.62 L542.47,94.9 L543.17,94.74 L543.88,94.91 L544.58,94.61 L545.29,94.32 L545.99,94.42 L546.7,94.67 L547.4,94.91 L548.1,94.29 L548.81,94.95 L549.51,94.73 L550.22,94.43 L550.92,94.67 L551.63,95.05 L552.33,94.62 L553.04,94.81 L553.74,94.43 L554.45,94.8 L555.15,94.91 L555.86,94.39 L556.56,94.94 L557.27,95.1 L557.97,94.47 L558.68,94.47 L559.38,95.38 L560.09,95.44 L560.79,94.61 L561.5,94.59 L562.2,95.16 L562.9,95.32 L563.61,94.84 L564.31,94.57 L565.02,95.38 L565.72,95.13 L566.43,94.9 L567.13,95.39 L567.84,95.19 L568.54,95.44 L569.25,95.13 L569.95,95.4 L570.66,95.44 L571.36,95.25 L572.07,95.44 L572.77,95.44 L573.48,95.44 L574.18,95.25 L574.89,95.35 L575.59,94.96 L576.3,95.27 L577,95.2 L577,95.44 Z" fill="#53bdb7" fill-opacity="0.88" stroke="none"/>
<polyline points="502.9,95.44 502.9,82.5 503.75,84.12 504.6,83 505.33,82.01 506.07,83.22 506.8,81.4 507.53,81.47 508.27,82.78 509,84.1 509.8,81.8 510.6,78.6 511.7,86.9 512.55,88.09 513.4,90.2 514.2,91.09 515,92.5 515.73,94.32 516.47,92.66 517.2,92.9 518,92.6 518.8,93.04 519.6,92.03 520.4,93.3 521.1,92.71 521.8,93.82 522.5,94.31 523.2,94.63 523.9,92.97 524.6,93.38 525.3,93.68 526,94.15 526.7,94.11 527.4,94.2 528.14,94.81 528.89,94.29 529.63,95.05 530.37,94.28 531.11,94.34 531.86,94.36 532.6,94.7 533.3,95.08 534.01,95.32 534.71,94.97 535.42,94.46 536.12,94.73 536.83,94.39 537.53,94.85 538.24,94.91 538.94,94.2 539.65,95.25 540.35,95.2 541.06,94.67 541.76,94.62 542.47,94.9 543.17,94.74 543.88,94.91 544.58,94.61 545.29,94.32 545.99,94.42 546.7,94.67 547.4,94.91 548.1,94.29 548.81,94.95 549.51,94.73 550.22,94.43 550.92,94.67 551.63,95.05 552.33,94.62 553.04,94.81 553.74,94.43 554.45,94.8 555.15,94.91 555.86,94.39 556.56,94.94 557.27,95.1 557.97,94.47 558.68,94.47 559.38,95.38 560.09,95.44 560.79,94.61 561.5,94.59 562.2,95.16 562.9,95.32 563.61,94.84 564.31,94.57 565.02,95.38 565.72,95.13 566.43,94.9 567.13,95.39 567.84,95.19 568.54,95.44 569.25,95.13 569.95,95.4 570.66,95.44 571.36,95.25 572.07,95.44 572.77,95.44 573.48,95.44 574.18,95.25 574.89,95.35 575.59,94.96 576.3,95.27 577,95.2" stroke="#000" stroke-width="0.95" fill="none" stroke-linejoin="round"/>
<path d="M502.9,105.21 L502.9,105.2 L502.8,96 L503.7,93.68 L504.6,95.1 L505.45,96.12 L506.3,96.8 L507.15,94.65 L508,94.2 L508.9,92.83 L509.8,93.3 L510.7,95.76 L511.6,96 L512.47,98.81 L513.33,97.93 L514.2,99.5 L515.07,101.54 L515.93,101.09 L516.8,101.2 L517.52,99.86 L518.24,100.11 L518.96,103.23 L519.68,103.55 L520.4,102.1 L521.14,103.31 L521.89,101.13 L522.63,104.2 L523.37,103.57 L524.11,104.05 L524.86,104.06 L525.6,103 L526.5,101.8 L527.35,102.77 L528.2,103.9 L528.92,104.61 L529.64,104.22 L530.35,103.68 L531.07,103.79 L531.79,104.41 L532.51,103.87 L533.23,104.3 L533.95,104 L534.66,104.91 L535.38,104.8 L536.1,104.7 L536.81,104.61 L537.51,104.17 L538.22,104.58 L538.92,104.77 L539.63,105.04 L540.33,105.01 L541.04,105.1 L541.74,104.2 L542.45,104.33 L543.15,104.33 L543.86,104.76 L544.56,104.57 L545.27,105.04 L545.97,104.84 L546.68,105.21 L547.38,104.93 L548.09,105.12 L548.79,105.21 L549.5,104.42 L550.2,105.21 L550.91,104.55 L551.61,104.68 L552.32,105.21 L553.02,104.92 L553.73,104.41 L554.43,104.43 L555.14,104.87 L555.84,104.67 L556.55,104.75 L557.26,105.16 L557.96,104.92 L558.67,104.88 L559.37,105.08 L560.08,104.7 L560.78,105.05 L561.49,104.78 L562.19,105.21 L562.9,105.08 L563.6,105.21 L564.31,104.92 L565.01,104.73 L565.72,105.02 L566.42,105.02 L567.13,104.98 L567.83,105.21 L568.54,105.19 L569.24,105.04 L569.95,105 L570.65,105.21 L571.36,105.15 L572.06,105.21 L572.77,105.11 L573.47,105.02 L574.18,105.21 L574.88,105.04 L575.59,104.93 L576.29,105.17 L577,105.2 L577,105.21 Z" fill="#64c2b9" fill-opacity="0.88" stroke="none"/>
<polyline points="502.9,105.2 502.8,96 503.7,93.68 504.6,95.1 505.45,96.12 506.3,96.8 507.15,94.65 508,94.2 508.9,92.83 509.8,93.3 510.7,95.76 511.6,96 512.47,98.81 513.33,97.93 514.2,99.5 515.07,101.54 515.93,101.09 516.8,101.2 517.52,99.86 518.24,100.11 518.96,103.23 519.68,103.55 520.4,102.1 521.14,103.31 521.89,101.13 522.63,104.2 523.37,103.57 524.11,104.05 524.86,104.06 525.6,103 526.5,101.8 527.35,102.77 528.2,103.9 528.92,104.61 529.64,104.22 530.35,103.68 531.07,103.79 531.79,104.41 532.51,103.87 533.23,104.3 533.95,104 534.66,104.91 535.38,104.8 536.1,104.7 536.81,104.61 537.51,104.17 538.22,104.58 538.92,104.77 539.63,105.04 540.33,105.01 541.04,105.1 541.74,104.2 542.45,104.33 543.15,104.33 543.86,104.76 544.56,104.57 545.27,105.04 545.97,104.84 546.68,105.21 547.38,104.93 548.09,105.12 548.79,105.21 549.5,104.42 550.2,105.21 550.91,104.55 551.61,104.68 552.32,105.21 553.02,104.92 553.73,104.41 554.43,104.43 555.14,104.87 555.84,104.67 556.55,104.75 557.26,105.16 557.96,104.92 558.67,104.88 559.37,105.08 560.08,104.7 560.78,105.05 561.49,104.78 562.19,105.21 562.9,105.08 563.6,105.21 564.31,104.92 565.01,104.73 565.72,105.02 566.42,105.02 567.13,104.98 567.83,105.21 568.54,105.19 569.24,105.04 569.95,105 570.65,105.21 571.36,105.15 572.06,105.21 572.77,105.11 573.47,105.02 574.18,105.21 574.88,105.04 575.59,104.93 576.29,105.17 577,105.2" stroke="#000" stroke-width="0.95" fill="none" stroke-linejoin="round"/>
<path d="M503.26,114.98 L503.26,114.85 L504.53,111.36 L505.33,108.5 L506.12,107.79 L506.92,108.18 L507.71,106.74 L508.5,108.18 L509.3,106.59 L510.09,106.61 L510.89,105.32 L511.68,104.72 L512.48,105.79 L513.27,105 L514.07,108.47 L514.86,108.29 L515.65,107.38 L516.45,106.04 L517.24,109.27 L518.04,107.37 L518.83,108.18 L519.63,109.9 L520.42,109.73 L521.22,111.36 L522.01,110.47 L522.8,112.13 L523.6,112.94 L524.3,113.29 L525.01,113.51 L525.72,112.72 L526.42,112.74 L527.13,113.36 L527.84,113.24 L528.54,113.1 L529.25,113.85 L529.95,113.26 L530.75,114.18 L531.54,113.43 L532.34,114.55 L533.13,113.72 L533.93,113.55 L534.72,114.22 L535.44,113.76 L536.16,114.63 L536.89,114.42 L537.61,113.74 L538.33,114.56 L539.05,113.73 L539.78,114.81 L540.5,114.01 L541.22,114.98 L541.94,114.3 L542.66,114.53 L543.38,114.18 L544.09,114.49 L544.8,114.4 L545.52,114.08 L546.23,114 L546.94,114.94 L547.66,114.55 L548.37,114.98 L549.08,114.73 L549.8,114.98 L550.51,114.98 L551.22,114.47 L551.94,114.98 L552.65,114.98 L553.36,114.98 L554.08,114.3 L554.79,114.91 L555.5,114.98 L556.22,114.53 L556.93,114.44 L557.64,114.53 L558.36,114.63 L559.07,114.65 L559.78,114.47 L560.5,114.89 L561.21,114.36 L561.92,114.52 L562.64,114.36 L563.35,114.34 L564.06,114.4 L564.78,114.72 L565.49,114.72 L566.2,114.53 L566.92,114.68 L567.63,114.98 L568.34,114.38 L569.06,114.98 L569.77,114.79 L570.48,114.83 L571.2,114.98 L571.91,114.73 L572.62,114.73 L573.34,114.54 L574.05,114.72 L574.76,114.98 L575.48,114.78 L576.19,114.45 L576.91,114.73 L577.62,114.85 L577.62,114.98 Z" fill="#2ea0ca" fill-opacity="0.88" stroke="none"/>
<polyline points="503.26,114.85 504.53,111.36 505.33,108.5 506.12,107.79 506.92,108.18 507.71,106.74 508.5,108.18 509.3,106.59 510.09,106.61 510.89,105.32 511.68,104.72 512.48,105.79 513.27,105 514.07,108.47 514.86,108.29 515.65,107.38 516.45,106.04 517.24,109.27 518.04,107.37 518.83,108.18 519.63,109.9 520.42,109.73 521.22,111.36 522.01,110.47 522.8,112.13 523.6,112.94 524.3,113.29 525.01,113.51 525.72,112.72 526.42,112.74 527.13,113.36 527.84,113.24 528.54,113.1 529.25,113.85 529.95,113.26 530.75,114.18 531.54,113.43 532.34,114.55 533.13,113.72 533.93,113.55 534.72,114.22 535.44,113.76 536.16,114.63 536.89,114.42 537.61,113.74 538.33,114.56 539.05,113.73 539.78,114.81 540.5,114.01 541.22,114.98 541.94,114.3 542.66,114.53 543.38,114.18 544.09,114.49 544.8,114.4 545.52,114.08 546.23,114 546.94,114.94 547.66,114.55 548.37,114.98 549.08,114.73 549.8,114.98 550.51,114.98 551.22,114.47 551.94,114.98 552.65,114.98 553.36,114.98 554.08,114.3 554.79,114.91 555.5,114.98 556.22,114.53 556.93,114.44 557.64,114.53 558.36,114.63 559.07,114.65 559.78,114.47 560.5,114.89 561.21,114.36 561.92,114.52 562.64,114.36 563.35,114.34 564.06,114.4 564.78,114.72 565.49,114.72 566.2,114.53 566.92,114.68 567.63,114.98 568.34,114.38 569.06,114.98 569.77,114.79 570.48,114.83 571.2,114.98 571.91,114.73 572.62,114.73 573.34,114.54 574.05,114.72 574.76,114.98 575.48,114.78 576.19,114.45 576.91,114.73 577.62,114.85" stroke="#000" stroke-width="0.95" fill="none" stroke-linejoin="round"/>
<path d="M503.26,124.75 L503.26,124.75 L503.34,124.38 L504.27,122.34 L505.19,122.59 L506.12,120.89 L506.92,118.96 L507.71,117.54 L508.5,119.24 L509.3,117.71 L510.09,116.27 L510.89,117.56 L511.68,117.83 L512.48,116.12 L513.27,117.31 L514.07,116.33 L514.86,119.28 L515.65,118.5 L516.45,118.08 L517.24,119.48 L518.04,120.39 L518.83,119.3 L519.63,119.89 L520.42,120.38 L521.22,120.41 L522.01,119.08 L522.8,120.89 L523.6,119.41 L524.39,122.27 L525.19,119.46 L525.98,121.09 L526.78,121.68 L527.57,120.25 L528.37,121.13 L529.16,122.4 L529.95,123.45 L530.75,121.91 L531.54,123.27 L532.26,122.25 L532.99,123.15 L533.71,124.27 L534.43,122.92 L535.15,123.13 L535.88,123.02 L536.6,122.95 L537.32,123.06 L538.04,123.55 L538.76,124.16 L539.49,124.07 L540.23,124.05 L540.97,124.12 L541.71,123.82 L542.45,124.03 L543.19,123.81 L543.94,124.24 L544.68,124.18 L545.42,123.78 L546.16,124.02 L546.9,123.91 L547.64,124.21 L548.38,124.75 L549.13,124.56 L549.87,124.71 L550.61,124.54 L551.32,124.75 L552.03,124.75 L552.74,124.75 L553.45,124.58 L554.16,124.32 L554.87,124.25 L555.58,124.17 L556.29,124.51 L557.01,124.75 L557.72,124.75 L558.43,124.75 L559.14,124.29 L559.85,124.75 L560.56,124.43 L561.27,124.67 L561.98,124.56 L562.69,124.35 L563.4,124.51 L564.11,124.75 L564.82,124.54 L565.54,124.75 L566.25,124.28 L566.96,124.75 L567.67,124.75 L568.38,124.35 L569.09,124.75 L569.8,124.75 L570.51,124.47 L571.22,124.39 L571.93,124.71 L572.64,124.75 L573.35,124.45 L574.06,124.75 L574.78,124.75 L575.49,124.75 L576.2,124.47 L576.91,124.75 L577.62,124.75 L577.62,124.75 Z" fill="#34a3cf" fill-opacity="0.88" stroke="none"/>
<polyline points="503.26,124.75 503.34,124.38 504.27,122.34 505.19,122.59 506.12,120.89 506.92,118.96 507.71,117.54 508.5,119.24 509.3,117.71 510.09,116.27 510.89,117.56 511.68,117.83 512.48,116.12 513.27,117.31 514.07,116.33 514.86,119.28 515.65,118.5 516.45,118.08 517.24,119.48 518.04,120.39 518.83,119.3 519.63,119.89 520.42,120.38 521.22,120.41 522.01,119.08 522.8,120.89 523.6,119.41 524.39,122.27 525.19,119.46 525.98,121.09 526.78,121.68 527.57,120.25 528.37,121.13 529.16,122.4 529.95,123.45 530.75,121.91 531.54,123.27 532.26,122.25 532.99,123.15 533.71,124.27 534.43,122.92 535.15,123.13 535.88,123.02 536.6,122.95 537.32,123.06 538.04,123.55 538.76,124.16 539.49,124.07 540.23,124.05 540.97,124.12 541.71,123.82 542.45,124.03 543.19,123.81 543.94,124.24 544.68,124.18 545.42,123.78 546.16,124.02 546.9,123.91 547.64,124.21 548.38,124.75 549.13,124.56 549.87,124.71 550.61,124.54 551.32,124.75 552.03,124.75 552.74,124.75 553.45,124.58 554.16,124.32 554.87,124.25 555.58,124.17 556.29,124.51 557.01,124.75 557.72,124.75 558.43,124.75 559.14,124.29 559.85,124.75 560.56,124.43 561.27,124.67 561.98,124.56 562.69,124.35 563.4,124.51 564.11,124.75 564.82,124.54 565.54,124.75 566.25,124.28 566.96,124.75 567.67,124.75 568.38,124.35 569.09,124.75 569.8,124.75 570.51,124.47 571.22,124.39 571.93,124.71 572.64,124.75 573.35,124.45 574.06,124.75 574.78,124.75 575.49,124.75 576.2,124.47 576.91,124.75 577.62,124.75" stroke="#000" stroke-width="0.95" fill="none" stroke-linejoin="round"/>
<path d="M503.26,134.52 L503.26,134.52 L504.53,134.39 L505.33,133.24 L506.12,131.79 L506.92,133.64 L507.71,131.22 L508.5,128.9 L509.3,128.77 L510.09,131.16 L510.89,128.83 L511.68,127.32 L512.48,127.01 L513.27,129.1 L514.07,125.72 L514.86,127.24 L515.65,127.93 L516.45,127.75 L517.24,127.12 L518.04,127.14 L518.83,128.04 L519.63,127.34 L520.42,129.43 L521.22,128.89 L522.01,130.51 L522.8,130.24 L523.6,129.63 L524.3,129.84 L525.01,131.64 L525.72,130.75 L526.42,129.1 L527.13,131.76 L527.84,130.95 L528.54,132.67 L529.25,130.11 L529.95,131.22 L530.66,132.95 L531.37,132.79 L532.07,130.85 L532.78,132.12 L533.48,131.92 L534.19,131.94 L534.9,132.46 L535.6,132.83 L536.31,132.8 L537.02,133.74 L537.72,133.82 L538.43,133.73 L539.13,133.71 L539.84,133.61 L540.55,132.56 L541.25,133.96 L541.96,134.17 L542.66,133.6 L543.39,134.04 L544.11,134.31 L544.83,133.34 L545.55,133.26 L546.28,133.61 L547,133.48 L547.72,134.05 L548.44,134.23 L549.16,134.36 L549.89,134.18 L550.61,134.39 L551.32,134.52 L552.03,134.38 L552.74,134.49 L553.45,134.27 L554.16,134.11 L554.87,134.28 L555.58,134.52 L556.29,134.34 L557.01,134.24 L557.72,134.4 L558.43,134.52 L559.14,134.52 L559.85,134.41 L560.56,134.27 L561.27,134.45 L561.98,134.27 L562.69,134.41 L563.4,134.2 L564.11,134.52 L564.82,134.21 L565.54,134.27 L566.25,134.52 L566.96,134.52 L567.67,134.52 L568.38,134.26 L569.09,134.38 L569.8,134.52 L570.51,134.31 L571.22,134.52 L571.93,134.23 L572.64,134.52 L573.35,134.52 L574.06,134.52 L574.78,134.52 L575.49,134.52 L576.2,134.49 L576.91,134.52 L577.62,134.52 L577.62,134.52 Z" fill="#0e6fba" fill-opacity="0.88" stroke="none"/>
<polyline points="503.26,134.52 504.53,134.39 505.33,133.24 506.12,131.79 506.92,133.64 507.71,131.22 508.5,128.9 509.3,128.77 510.09,131.16 510.89,128.83 511.68,127.32 512.48,127.01 513.27,129.1 514.07,125.72 514.86,127.24 515.65,127.93 516.45,127.75 517.24,127.12 518.04,127.14 518.83,128.04 519.63,127.34 520.42,129.43 521.22,128.89 522.01,130.51 522.8,130.24 523.6,129.63 524.3,129.84 525.01,131.64 525.72,130.75 526.42,129.1 527.13,131.76 527.84,130.95 528.54,132.67 529.25,130.11 529.95,131.22 530.66,132.95 531.37,132.79 532.07,130.85 532.78,132.12 533.48,131.92 534.19,131.94 534.9,132.46 535.6,132.83 536.31,132.8 537.02,133.74 537.72,133.82 538.43,133.73 539.13,133.71 539.84,133.61 540.55,132.56 541.25,133.96 541.96,134.17 542.66,133.6 543.39,134.04 544.11,134.31 544.83,133.34 545.55,133.26 546.28,133.61 547,133.48 547.72,134.05 548.44,134.23 549.16,134.36 549.89,134.18 550.61,134.39 551.32,134.52 552.03,134.38 552.74,134.49 553.45,134.27 554.16,134.11 554.87,134.28 555.58,134.52 556.29,134.34 557.01,134.24 557.72,134.4 558.43,134.52 559.14,134.52 559.85,134.41 560.56,134.27 561.27,134.45 561.98,134.27 562.69,134.41 563.4,134.2 564.11,134.52 564.82,134.21 565.54,134.27 566.25,134.52 566.96,134.52 567.67,134.52 568.38,134.26 569.09,134.38 569.8,134.52 570.51,134.31 571.22,134.52 571.93,134.23 572.64,134.52 573.35,134.52 574.06,134.52 574.78,134.52 575.49,134.52 576.2,134.49 576.91,134.52 577.62,134.52" stroke="#000" stroke-width="0.95" fill="none" stroke-linejoin="round"/>
<path d="M503.26,144.29 L503.26,144.29 L504.53,144.08 L505.33,144.11 L506.12,143.38 L506.92,142.34 L507.71,142.58 L508.5,142.67 L509.3,142.34 L510.09,142.39 L510.89,142.56 L511.68,138.6 L512.48,139.95 L513.27,138.33 L514.07,139.66 L514.86,137.68 L515.65,136.6 L516.45,136.78 L517.24,135.67 L518.04,138.59 L518.83,138.93 L519.63,139.9 L520.42,139.16 L521.13,138.9 L521.83,137.69 L522.54,138.51 L523.25,140.92 L523.95,140.1 L524.66,141.34 L525.36,141.1 L526.07,139.89 L526.78,139.95 L527.48,141.34 L528.19,140.92 L528.89,141.06 L529.6,140.4 L530.31,138.74 L531.01,141.2 L531.72,139.76 L532.43,140.63 L533.13,140.27 L533.84,141.23 L534.54,141.34 L535.25,139.61 L535.96,139.5 L536.66,140.07 L537.37,139.6 L538.07,140.37 L538.78,142.16 L539.49,141.54 L540.19,142.64 L540.9,141.68 L541.61,141.74 L542.31,141.43 L543.02,141.33 L543.72,141.86 L544.43,141.68 L545.14,142.59 L545.84,143.13 L546.55,142.88 L547.25,142.79 L547.96,143.4 L548.67,143.02 L549.37,143.02 L550.08,143.64 L550.79,143.95 L551.49,143.98 L552.2,143.93 L552.9,143.81 L553.61,143.88 L554.32,143.96 L555.02,144.08 L555.73,143.73 L556.43,143.8 L557.14,143.55 L557.85,143.54 L558.55,144.29 L559.26,144.12 L559.96,143.8 L560.67,144.01 L561.38,143.95 L562.08,144.29 L562.79,144.18 L563.5,143.76 L564.2,143.94 L564.91,143.77 L565.61,143.75 L566.32,143.76 L567.03,143.82 L567.73,143.79 L568.44,143.82 L569.14,143.81 L569.85,144.25 L570.56,144.26 L571.26,144.24 L571.97,144 L572.68,143.85 L573.38,144.1 L574.09,144.29 L574.79,144.29 L575.5,144.29 L576.21,144.29 L576.91,144.29 L577.62,144.29 L577.62,144.29 Z" fill="#0652a2" fill-opacity="0.88" stroke="none"/>
<polyline points="503.26,144.29 504.53,144.08 505.33,144.11 506.12,143.38 506.92,142.34 507.71,142.58 508.5,142.67 509.3,142.34 510.09,142.39 510.89,142.56 511.68,138.6 512.48,139.95 513.27,138.33 514.07,139.66 514.86,137.68 515.65,136.6 516.45,136.78 517.24,135.67 518.04,138.59 518.83,138.93 519.63,139.9 520.42,139.16 521.13,138.9 521.83,137.69 522.54,138.51 523.25,140.92 523.95,140.1 524.66,141.34 525.36,141.1 526.07,139.89 526.78,139.95 527.48,141.34 528.19,140.92 528.89,141.06 529.6,140.4 530.31,138.74 531.01,141.2 531.72,139.76 532.43,140.63 533.13,140.27 533.84,141.23 534.54,141.34 535.25,139.61 535.96,139.5 536.66,140.07 537.37,139.6 538.07,140.37 538.78,142.16 539.49,141.54 540.19,142.64 540.9,141.68 541.61,141.74 542.31,141.43 543.02,141.33 543.72,141.86 544.43,141.68 545.14,142.59 545.84,143.13 546.55,142.88 547.25,142.79 547.96,143.4 548.67,143.02 549.37,143.02 550.08,143.64 550.79,143.95 551.49,143.98 552.2,143.93 552.9,143.81 553.61,143.88 554.32,143.96 555.02,144.08 555.73,143.73 556.43,143.8 557.14,143.55 557.85,143.54 558.55,144.29 559.26,144.12 559.96,143.8 560.67,144.01 561.38,143.95 562.08,144.29 562.79,144.18 563.5,143.76 564.2,143.94 564.91,143.77 565.61,143.75 566.32,143.76 567.03,143.82 567.73,143.79 568.44,143.82 569.14,143.81 569.85,144.25 570.56,144.26 571.26,144.24 571.97,144 572.68,143.85 573.38,144.1 574.09,144.29 574.79,144.29 575.5,144.29 576.21,144.29 576.91,144.29 577.62,144.29" stroke="#000" stroke-width="0.95" fill="none" stroke-linejoin="round"/>
<path d="M503.26,154.06 L503.26,154.06 L504.53,153.94 L505.33,154.06 L506.12,153.19 L506.92,152.85 L507.71,153.39 L508.5,153.43 L509.3,153.45 L510.09,152.66 L510.89,153.14 L511.68,151.08 L512.48,152.03 L513.27,151.92 L514.07,149.22 L514.86,151.65 L515.65,150.28 L516.45,151.01 L517.24,147.66 L518.04,147.22 L518.83,149.93 L519.63,147.9 L520.42,149.07 L521.22,146.95 L522.01,149.75 L522.8,149.31 L523.6,150.28 L524.3,149.62 L525.01,149.88 L525.72,152.28 L526.42,149.76 L527.13,149.5 L527.84,151.01 L528.54,151.5 L529.25,150.12 L529.95,151.08 L530.66,149.23 L531.37,149.46 L532.07,152.31 L532.78,150.25 L533.48,151.29 L534.19,149.51 L534.9,149.62 L535.6,151.42 L536.31,151.39 L537.02,150.04 L537.72,150.18 L538.43,152.86 L539.13,151.92 L539.84,150.2 L540.55,152.56 L541.25,151.96 L541.96,151.42 L542.66,151.87 L543.39,152.38 L544.11,151.19 L544.83,152.98 L545.55,151.89 L546.28,152.09 L547,153.52 L547.72,151.65 L548.44,151.75 L549.16,151.69 L549.89,153.29 L550.61,152.66 L551.33,152.72 L552.05,153.57 L552.78,152.59 L553.5,152.93 L554.22,152.63 L554.94,153.88 L555.66,153.8 L556.39,154.06 L557.11,153.24 L557.83,153.68 L558.55,153.94 L559.26,154.06 L559.96,153.69 L560.67,153.93 L561.38,153.95 L562.08,153.59 L562.79,153.61 L563.5,153.83 L564.2,154 L564.91,153.89 L565.61,153.87 L566.32,154.06 L567.03,154.06 L567.73,153.64 L568.44,153.17 L569.14,153.58 L569.85,153.76 L570.56,154.06 L571.26,153.13 L571.97,153.82 L572.68,153.83 L573.38,153.3 L574.09,153.07 L574.79,154.02 L575.5,154.06 L576.21,153.86 L576.91,152.82 L577.62,153.46 L577.62,154.06 Z" fill="#00367f" fill-opacity="0.88" stroke="none"/>
<polyline points="503.26,154.06 504.53,153.94 505.33,154.06 506.12,153.19 506.92,152.85 507.71,153.39 508.5,153.43 509.3,153.45 510.09,152.66 510.89,153.14 511.68,151.08 512.48,152.03 513.27,151.92 514.07,149.22 514.86,151.65 515.65,150.28 516.45,151.01 517.24,147.66 518.04,147.22 518.83,149.93 519.63,147.9 520.42,149.07 521.22,146.95 522.01,149.75 522.8,149.31 523.6,150.28 524.3,149.62 525.01,149.88 525.72,152.28 526.42,149.76 527.13,149.5 527.84,151.01 528.54,151.5 529.25,150.12 529.95,151.08 530.66,149.23 531.37,149.46 532.07,152.31 532.78,150.25 533.48,151.29 534.19,149.51 534.9,149.62 535.6,151.42 536.31,151.39 537.02,150.04 537.72,150.18 538.43,152.86 539.13,151.92 539.84,150.2 540.55,152.56 541.25,151.96 541.96,151.42 542.66,151.87 543.39,152.38 544.11,151.19 544.83,152.98 545.55,151.89 546.28,152.09 547,153.52 547.72,151.65 548.44,151.75 549.16,151.69 549.89,153.29 550.61,152.66 551.33,152.72 552.05,153.57 552.78,152.59 553.5,152.93 554.22,152.63 554.94,153.88 555.66,153.8 556.39,154.06 557.11,153.24 557.83,153.68 558.55,153.94 559.26,154.06 559.96,153.69 560.67,153.93 561.38,153.95 562.08,153.59 562.79,153.61 563.5,153.83 564.2,154 564.91,153.89 565.61,153.87 566.32,154.06 567.03,154.06 567.73,153.64 568.44,153.17 569.14,153.58 569.85,153.76 570.56,154.06 571.26,153.13 571.97,153.82 572.68,153.83 573.38,153.3 574.09,153.07 574.79,154.02 575.5,154.06 576.21,153.86 576.91,152.82 577.62,153.46" stroke="#000" stroke-width="0.95" fill="none" stroke-linejoin="round"/>
<path d="M503.26,163.83 L503.26,163.79 L504.02,163.83 L504.77,163.74 L505.53,163.63 L506.28,163.83 L507.04,163.59 L507.79,163.09 L508.54,163.44 L509.3,163.47 L510.09,163.1 L510.89,162.25 L511.68,162.54 L512.48,162.67 L513.27,160.76 L514.07,161.4 L514.77,162.44 L515.48,159.87 L516.18,159.77 L516.89,160.87 L517.6,160.9 L518.3,162.55 L519.01,162.06 L519.71,159.63 L520.42,160.61 L521.22,159.45 L522.01,159.6 L522.8,161.23 L523.6,158.67 L524.39,157.38 L525.19,159.02 L525.98,157.89 L526.78,159.01 L527.57,160.19 L528.37,160.59 L529.16,161.96 L529.95,160.93 L530.69,162.66 L531.42,159.08 L532.15,161.25 L532.89,161.26 L533.62,160.87 L534.35,158.9 L535.09,159.14 L535.82,159.99 L536.55,159.6 L537.29,160.58 L538.02,160.08 L538.75,159.48 L539.49,160.61 L540.28,160.17 L541.08,162.68 L541.87,161.33 L542.66,161.4 L543.39,161.2 L544.11,161.01 L544.83,160.3 L545.55,160.85 L546.28,162 L547,161.9 L547.72,161.14 L548.44,161.29 L549.16,162.41 L549.89,162.39 L550.61,162.2 L551.33,161.96 L552.05,162.27 L552.78,161.89 L553.5,161.49 L554.22,162.53 L554.94,162.19 L555.66,163.07 L556.39,161.74 L557.11,162.03 L557.83,162.26 L558.55,162.52 L559.27,162.89 L560,163.43 L560.72,163.14 L561.44,163.14 L562.16,162.23 L562.89,162.64 L563.61,162.19 L564.33,162.12 L565.05,163.3 L565.77,163.52 L566.5,162.99 L567.24,162.67 L567.98,163.17 L568.72,162.59 L569.46,163.2 L570.2,163.54 L570.95,162.56 L571.69,162.88 L572.43,162.85 L573.17,163.01 L573.91,162.74 L574.65,162.88 L575.39,163.83 L576.14,163.83 L576.88,163.83 L577.62,163.47 L577.62,163.83 Z" fill="#001f57" fill-opacity="0.88" stroke="none"/>
<polyline points="503.26,163.79 504.02,163.83 504.77,163.74 505.53,163.63 506.28,163.83 507.04,163.59 507.79,163.09 508.54,163.44 509.3,163.47 510.09,163.1 510.89,162.25 511.68,162.54 512.48,162.67 513.27,160.76 514.07,161.4 514.77,162.44 515.48,159.87 516.18,159.77 516.89,160.87 517.6,160.9 518.3,162.55 519.01,162.06 519.71,159.63 520.42,160.61 521.22,159.45 522.01,159.6 522.8,161.23 523.6,158.67 524.39,157.38 525.19,159.02 525.98,157.89 526.78,159.01 527.57,160.19 528.37,160.59 529.16,161.96 529.95,160.93 530.69,162.66 531.42,159.08 532.15,161.25 532.89,161.26 533.62,160.87 534.35,158.9 535.09,159.14 535.82,159.99 536.55,159.6 537.29,160.58 538.02,160.08 538.75,159.48 539.49,160.61 540.28,160.17 541.08,162.68 541.87,161.33 542.66,161.4 543.39,161.2 544.11,161.01 544.83,160.3 545.55,160.85 546.28,162 547,161.9 547.72,161.14 548.44,161.29 549.16,162.41 549.89,162.39 550.61,162.2 551.33,161.96 552.05,162.27 552.78,161.89 553.5,161.49 554.22,162.53 554.94,162.19 555.66,163.07 556.39,161.74 557.11,162.03 557.83,162.26 558.55,162.52 559.27,162.89 560,163.43 560.72,163.14 561.44,163.14 562.16,162.23 562.89,162.64 563.61,162.19 564.33,162.12 565.05,163.3 565.77,163.52 566.5,162.99 567.24,162.67 567.98,163.17 568.72,162.59 569.46,163.2 570.2,163.54 570.95,162.56 571.69,162.88 572.43,162.85 573.17,163.01 573.91,162.74 574.65,162.88 575.39,163.83 576.14,163.83 576.88,163.83 577.62,163.47" stroke="#000" stroke-width="0.95" fill="none" stroke-linejoin="round"/>
<text x="499.5" y="46.4" font-size="8" fill="#333" text-anchor="end" >1</text>
<text x="499.5" y="85.2" font-size="8" fill="#333" text-anchor="end" >2</text>
<text x="499.5" y="94.3" font-size="8" fill="#333" text-anchor="end" >3</text>
<text x="499.5" y="103.7" font-size="8" fill="#333" text-anchor="end" >4</text>
<text x="499.5" y="113.4" font-size="8" fill="#333" text-anchor="end" >5</text>
<text x="499.5" y="123.3" font-size="8" fill="#333" text-anchor="end" >6</text>
<text x="499.5" y="133.6" font-size="8" fill="#333" text-anchor="end" >7</text>
<text x="499.5" y="143.3" font-size="8" fill="#333" text-anchor="end" >8</text>
<text x="499.5" y="152.7" font-size="8" fill="#333" text-anchor="end" >9</text>
<text x="499.5" y="162.3" font-size="8" fill="#333" text-anchor="end" >10</text>
<text x="502.7" y="173" font-size="7.6" fill="#444" text-anchor="middle" >0</text>
<text x="539.9" y="173" font-size="7.6" fill="#444" text-anchor="middle" >50</text>
<text x="576.4" y="173" font-size="7.6" fill="#444" text-anchor="middle" >100</text>
<text x="541.9" y="188.2" font-size="9" fill="#333" text-anchor="middle" textLength="78.5" lengthAdjust="spacingAndGlyphs">ALAN (nW cm<tspan font-size="6" dy="-3">−2</tspan><tspan dy="3"> sr</tspan><tspan font-size="6" dy="-3">−1</tspan><tspan dy="3">)</tspan></text>
<line x1="609.9" y1="7.8" x2="609.9" y2="163.24" stroke="#999999" stroke-width="0.9" />
<path d="M609.94,45.7 L609.94,45.7 L621.67,45.7 L624.12,44.01 L629.01,42.05 L632.68,43.52 L637.57,41.08 L641.23,39.12 L644.9,38.63 L648.57,31.78 L653.46,27.38 L658.35,28.85 L664.46,30.56 L668.13,37.9 L671.8,44.5 L675.46,43.52 L679.13,44.5 L685,45.23 L685,45.7 Z" fill="#f89d00" fill-opacity="0.88" stroke="none"/>
<polyline points="609.94,45.7 621.67,45.7 624.12,44.01 629.01,42.05 632.68,43.52 637.57,41.08 641.23,39.12 644.9,38.63 648.57,31.78 653.46,27.38 658.35,28.85 664.46,30.56 668.13,37.9 671.8,44.5 675.46,43.52 679.13,44.5 685,45.23" stroke="#000" stroke-width="0.95" fill="none" stroke-linejoin="round"/>
<path d="M609.94,58.76 L609.94,58.76 L621.67,58.76 L625.34,56.72 L630.23,55.01 L633.9,56.23 L640.01,53.79 L648.57,50.12 L652.24,41.08 L655.9,41.56 L664.46,41.56 L668.13,48.9 L671.8,57.46 L675.46,56.72 L685,58.19 L685,58.76 Z" fill="#f69902" fill-opacity="0.88" stroke="none"/>
<polyline points="609.94,58.76 621.67,58.76 625.34,56.72 630.23,55.01 633.9,56.23 640.01,53.79 648.57,50.12 652.24,41.08 655.9,41.56 664.46,41.56 668.13,48.9 671.8,57.46 675.46,56.72 685,58.19" stroke="#000" stroke-width="0.95" fill="none" stroke-linejoin="round"/>
<path d="M609.94,71.82 L609.94,71.82 L621.67,71.82 L626.56,69.68 L631.45,68.46 L636.34,68.95 L643.68,66.01 L649.79,64.06 L653.46,53.79 L658.35,55.01 L660.79,56.72 L664.46,52.57 L668.13,61.12 L671.8,70.9 L676.69,70.42 L685,71.39 L685,71.82 Z" fill="#e97c04" fill-opacity="0.88" stroke="none"/>
<polyline points="609.94,71.82 621.67,71.82 626.56,69.68 631.45,68.46 636.34,68.95 643.68,66.01 649.79,64.06 653.46,53.79 658.35,55.01 660.79,56.72 664.46,52.57 668.13,61.12 671.8,70.9 676.69,70.42 685,71.39" stroke="#000" stroke-width="0.95" fill="none" stroke-linejoin="round"/>
<path d="M609.94,84.88 L609.94,84.88 L621.67,84.88 L626.56,83.13 L630.23,80.2 L633.9,81.91 L641.23,79.46 L647.35,77.02 L651.01,75.79 L654.68,67.24 L658.35,67.97 L660.79,69.68 L664.46,64.79 L668.13,73.35 L671.8,84.35 L677.91,83.62 L685,84.88 L685,84.88 Z" fill="#e37400" fill-opacity="0.88" stroke="none"/>
<polyline points="609.94,84.88 621.67,84.88 626.56,83.13 630.23,80.2 633.9,81.91 641.23,79.46 647.35,77.02 651.01,75.79 654.68,67.24 658.35,67.97 660.79,69.68 664.46,64.79 668.13,73.35 671.8,84.35 677.91,83.62 685,84.88" stroke="#000" stroke-width="0.95" fill="none" stroke-linejoin="round"/>
<path d="M609.87,97.94 L609.87,97.82 L623.46,97.82 L628.59,94.23 L633.72,95.51 L640.13,92.69 L647.82,90.9 L651.67,83.72 L655.51,81.15 L659.36,83.72 L661.92,83.72 L664.49,78.59 L668.33,86.28 L672.18,96.03 L676.03,95.26 L685,97.31 L685,97.94 Z" fill="#db6e00" fill-opacity="0.88" stroke="none"/>
<polyline points="609.87,97.82 623.46,97.82 628.59,94.23 633.72,95.51 640.13,92.69 647.82,90.9 651.67,83.72 655.51,81.15 659.36,83.72 661.92,83.72 664.49,78.59 668.33,86.28 672.18,96.03 676.03,95.26 685,97.31" stroke="#000" stroke-width="0.95" fill="none" stroke-linejoin="round"/>
<path d="M609.87,111 L609.87,111 L623.46,111 L628.59,107.56 L633.72,108.85 L640.13,106.03 L647.82,104.23 L651.67,96.54 L655.51,93.97 L659.36,96.54 L661.92,96.54 L664.49,91.41 L668.33,99.1 L672.18,109.36 L676.03,108.59 L685,110.64 L685,111 Z" fill="#d36900" fill-opacity="0.88" stroke="none"/>
<polyline points="609.87,111 623.46,111 628.59,107.56 633.72,108.85 640.13,106.03 647.82,104.23 651.67,96.54 655.51,93.97 659.36,96.54 661.92,96.54 664.49,91.41 668.33,99.1 672.18,109.36 676.03,108.59 685,110.64" stroke="#000" stroke-width="0.95" fill="none" stroke-linejoin="round"/>
<path d="M609.87,124.06 L609.87,124.06 L623.46,124.06 L628.59,120.9 L632.44,122.18 L640.13,119.1 L647.82,117.05 L651.67,110.64 L654.23,107.56 L658.08,108.85 L660.64,110.64 L664.49,105.51 L668.33,112.69 L672.18,122.95 L676.03,122.18 L685,123.46 L685,124.06 Z" fill="#c35c00" fill-opacity="0.88" stroke="none"/>
<polyline points="609.87,124.06 623.46,124.06 628.59,120.9 632.44,122.18 640.13,119.1 647.82,117.05 651.67,110.64 654.23,107.56 658.08,108.85 660.64,110.64 664.49,105.51 668.33,112.69 672.18,122.95 676.03,122.18 685,123.46" stroke="#000" stroke-width="0.95" fill="none" stroke-linejoin="round"/>
<path d="M609.87,137.12 L609.87,137.12 L623.46,137.12 L628.59,133.72 L632.44,135 L640.13,132.44 L647.82,131.15 L651.67,124.74 L654.23,120.9 L658.08,122.18 L660.64,123.97 L664.49,118.33 L668.33,126.03 L672.18,136.28 L676.03,135.51 L685,137.05 L685,137.12 Z" fill="#b65300" fill-opacity="0.88" stroke="none"/>
<polyline points="609.87,137.12 623.46,137.12 628.59,133.72 632.44,135 640.13,132.44 647.82,131.15 651.67,124.74 654.23,120.9 658.08,122.18 660.64,123.97 664.49,118.33 668.33,126.03 672.18,136.28 676.03,135.51 685,137.05" stroke="#000" stroke-width="0.95" fill="none" stroke-linejoin="round"/>
<path d="M609.87,150.18 L609.87,150.18 L623.46,150.18 L628.59,146.54 L632.44,147.82 L638.85,146.03 L646.54,143.97 L650.38,138.85 L652.95,133.72 L658.08,135 L660.64,137.56 L664.49,131.15 L668.33,138.85 L672.18,147.82 L676.03,146.54 L678.59,149.62 L685,150.18 L685,150.18 Z" fill="#994400" fill-opacity="0.88" stroke="none"/>
<polyline points="609.87,150.18 623.46,150.18 628.59,146.54 632.44,147.82 638.85,146.03 646.54,143.97 650.38,138.85 652.95,133.72 658.08,135 660.64,137.56 664.49,131.15 668.33,138.85 672.18,147.82 676.03,146.54 678.59,149.62 685,150.18" stroke="#000" stroke-width="0.95" fill="none" stroke-linejoin="round"/>
<path d="M609.87,163.24 L609.87,163.21 L623.46,163.21 L627.31,161.41 L632.44,160.64 L638.85,159.87 L646.54,158.08 L650.38,151.67 L652.95,147.82 L656.79,149.1 L660.64,151.15 L664.49,145.26 L668.33,150.38 L672.18,160.64 L677.31,161.92 L685,162.69 L685,163.24 Z" fill="#7d3200" fill-opacity="0.88" stroke="none"/>
<polyline points="609.87,163.21 623.46,163.21 627.31,161.41 632.44,160.64 638.85,159.87 646.54,158.08 650.38,151.67 652.95,147.82 656.79,149.1 660.64,151.15 664.49,145.26 668.33,150.38 672.18,160.64 677.31,161.92 685,162.69" stroke="#000" stroke-width="0.95" fill="none" stroke-linejoin="round"/>
<text x="606.5" y="40.8" font-size="8" fill="#333" text-anchor="end" >1</text>
<text x="606.5" y="56.7" font-size="8" fill="#333" text-anchor="end" >2</text>
<text x="606.5" y="69.4" font-size="8" fill="#333" text-anchor="end" >3</text>
<text x="606.5" y="82.9" font-size="8" fill="#333" text-anchor="end" >4</text>
<text x="606.5" y="95.6" font-size="8" fill="#333" text-anchor="end" >5</text>
<text x="606.5" y="108.9" font-size="8" fill="#333" text-anchor="end" >6</text>
<text x="606.5" y="121.7" font-size="8" fill="#333" text-anchor="end" >7</text>
<text x="606.5" y="135.3" font-size="8" fill="#333" text-anchor="end" >8</text>
<text x="606.5" y="148.2" font-size="8" fill="#333" text-anchor="end" >9</text>
<text x="606.5" y="161" font-size="8" fill="#333" text-anchor="end" >10</text>
<text x="609.9" y="172.9" font-size="7.6" fill="#444" text-anchor="middle" >-9</text>
<text x="629.9" y="172.9" font-size="7.6" fill="#444" text-anchor="middle" >0</text>
<text x="650" y="172.9" font-size="7.6" fill="#444" text-anchor="middle" >9</text>
<text x="670.6" y="172.9" font-size="7.6" fill="#444" text-anchor="middle" >18</text>
<text x="648.4" y="188.0" font-size="9.2" fill="#333" text-anchor="middle" textLength="24.8" lengthAdjust="spacingAndGlyphs"><tspan font-style="italic">T</tspan><tspan font-size="5.6" dy="2.4">a</tspan><tspan dy="-2.4"> (°C)</tspan></text>
<line x1="399.8" y1="208.8" x2="399.8" y2="365.53" stroke="#999999" stroke-width="0.9" />
<path d="M399.76,247 L399.76,246.97 L403.87,246.24 L406.81,245.5 L411.21,246.97 L415.61,242.57 L420.02,243.74 L425.89,241.1 L430.29,235.23 L434.7,234.5 L438.37,235.52 L442.04,230.83 L446.44,226.86 L450.11,233.03 L454.51,243.3 L457.45,243.3 L462.59,246.24 L466.99,247 L474.33,247 L474.33,247 Z" fill="#d8e3d6" fill-opacity="0.88" stroke="none"/>
<polyline points="399.76,246.97 403.87,246.24 406.81,245.5 411.21,246.97 415.61,242.57 420.02,243.74 425.89,241.1 430.29,235.23 434.7,234.5 438.37,235.52 442.04,230.83 446.44,226.86 450.11,233.03 454.51,243.3 457.45,243.3 462.59,246.24 466.99,247 474.33,247" stroke="#000" stroke-width="0.95" fill="none" stroke-linejoin="round"/>
<path d="M399.76,260.17 L399.76,260.17 L406.07,259.08 L412.68,257.61 L418.55,255.41 L422.22,257.32 L427.36,252.48 L431.76,249.98 L437.63,251.01 L442.04,247.05 L446.44,246.61 L450.11,244.7 L453.05,248.81 L456.72,253.21 L461.12,256.88 L465.52,259.82 L474.33,260.17 L474.33,260.17 Z" fill="#d3dfcf" fill-opacity="0.88" stroke="none"/>
<polyline points="399.76,260.17 406.07,259.08 412.68,257.61 418.55,255.41 422.22,257.32 427.36,252.48 431.76,249.98 437.63,251.01 442.04,247.05 446.44,246.61 450.11,244.7 453.05,248.81 456.72,253.21 461.12,256.88 465.52,259.82 474.33,260.17" stroke="#000" stroke-width="0.95" fill="none" stroke-linejoin="round"/>
<path d="M399.76,273.34 L399.76,273.34 L406.81,271.56 L411.94,272 L419.28,267.16 L422.95,270.09 L427.36,264.95 L433.23,264.22 L436.9,262.02 L442.04,259.08 L446.44,257.61 L450.11,262.75 L453.78,259.82 L459.65,264.95 L464.06,268.62 L468.46,273.03 L474.33,273.34 L474.33,273.34 Z" fill="#a9d08e" fill-opacity="0.88" stroke="none"/>
<polyline points="399.76,273.34 406.81,271.56 411.94,272 419.28,267.16 422.95,270.09 427.36,264.95 433.23,264.22 436.9,262.02 442.04,259.08 446.44,257.61 450.11,262.75 453.78,259.82 459.65,264.95 464.06,268.62 468.46,273.03 474.33,273.34" stroke="#000" stroke-width="0.95" fill="none" stroke-linejoin="round"/>
<path d="M399.76,286.51 L399.76,286.51 L406.81,284.77 L412.68,283.3 L420.02,281.83 L427.36,278.9 L434.7,274.5 L438.37,277.43 L442.04,273.03 L446.44,267.89 L450.11,275.96 L454.51,271.56 L459.65,278.9 L464.06,284.04 L466.99,286.24 L474.33,286.51 L474.33,286.51 Z" fill="#9dca82" fill-opacity="0.88" stroke="none"/>
<polyline points="399.76,286.51 406.81,284.77 412.68,283.3 420.02,281.83 427.36,278.9 434.7,274.5 438.37,277.43 442.04,273.03 446.44,267.89 450.11,275.96 454.51,271.56 459.65,278.9 464.06,284.04 466.99,286.24 474.33,286.51" stroke="#000" stroke-width="0.95" fill="none" stroke-linejoin="round"/>
<path d="M399.76,299.68 L399.76,299.3 L405.34,297.98 L411.94,296.51 L417.08,297.25 L422.22,294.31 L427.36,293.58 L433.23,288.44 L439.1,286.97 L446.44,282.57 L453.78,286.97 L461.12,291.38 L465.52,296.51 L469.93,298.72 L474.33,299.3 L474.33,299.68 Z" fill="#469e67" fill-opacity="0.88" stroke="none"/>
<polyline points="399.76,299.3 405.34,297.98 411.94,296.51 417.08,297.25 422.22,294.31 427.36,293.58 433.23,288.44 439.1,286.97 446.44,282.57 453.78,286.97 461.12,291.38 465.52,296.51 469.93,298.72 474.33,299.3" stroke="#000" stroke-width="0.95" fill="none" stroke-linejoin="round"/>
<path d="M399.4,312.85 L399.4,312.75 L403.84,312.28 L408.51,311.35 L413.18,310.18 L416.69,310.42 L419.61,309.6 L422.53,307.26 L425.45,307.85 L427.78,306.68 L430.7,304.93 L434.2,303.76 L437.71,303.18 L440.04,301.42 L442.96,298.5 L445.3,296.4 L447.05,295.58 L449.39,296.75 L452.89,297.92 L456.39,300.26 L459.9,304.34 L464.57,309.01 L468.07,311.93 L473.91,312.75 L473.91,312.85 Z" fill="#4da26a" fill-opacity="0.88" stroke="none"/>
<polyline points="399.4,312.75 403.84,312.28 408.51,311.35 413.18,310.18 416.69,310.42 419.61,309.6 422.53,307.26 425.45,307.85 427.78,306.68 430.7,304.93 434.2,303.76 437.71,303.18 440.04,301.42 442.96,298.5 445.3,296.4 447.05,295.58 449.39,296.75 452.89,297.92 456.39,300.26 459.9,304.34 464.57,309.01 468.07,311.93 473.91,312.75" stroke="#000" stroke-width="0.95" fill="none" stroke-linejoin="round"/>
<path d="M399.4,326.02 L399.4,325.95 L403.84,325.13 L407.34,324.43 L410.85,325.6 L415.52,323.61 L421.36,322.09 L427.2,320.69 L430.7,318.36 L435.37,317.19 L438.88,314.27 L442.38,315.44 L445.88,314.27 L448.22,309.01 L450.55,303.41 L452.89,304.34 L455.23,306.68 L457.56,311.35 L459.9,315.44 L462.23,320.11 L464.57,323.03 L469.24,325.13 L473.91,325.95 L473.91,326.02 Z" fill="#3a6e42" fill-opacity="0.88" stroke="none"/>
<polyline points="399.4,325.95 403.84,325.13 407.34,324.43 410.85,325.6 415.52,323.61 421.36,322.09 427.2,320.69 430.7,318.36 435.37,317.19 438.88,314.27 442.38,315.44 445.88,314.27 448.22,309.01 450.55,303.41 452.89,304.34 455.23,306.68 457.56,311.35 459.9,315.44 462.23,320.11 464.57,323.03 469.24,325.13 473.91,325.95" stroke="#000" stroke-width="0.95" fill="none" stroke-linejoin="round"/>
<path d="M399.61,339.19 L399.61,338.93 L406.07,338.53 L411.45,337.86 L416.82,337.18 L422.2,337.86 L424.89,335.84 L428.92,332.48 L432.96,331.81 L434.97,331.13 L438.34,325.76 L441.03,327.1 L444.39,328.45 L446.4,330.46 L449.09,327.1 L451.11,322.39 L453.13,312.31 L454.47,307.34 L456.08,312.31 L457.16,320.38 L459.85,328.45 L462.54,335.17 L465.23,338.13 L470.61,338.93 L474.64,338.93 L474.64,339.19 Z" fill="#46794b" fill-opacity="0.88" stroke="none"/>
<polyline points="399.61,338.93 406.07,338.53 411.45,337.86 416.82,337.18 422.2,337.86 424.89,335.84 428.92,332.48 432.96,331.81 434.97,331.13 438.34,325.76 441.03,327.1 444.39,328.45 446.4,330.46 449.09,327.1 451.11,322.39 453.13,312.31 454.47,307.34 456.08,312.31 457.16,320.38 459.85,328.45 462.54,335.17 465.23,338.13 470.61,338.93 474.64,338.93" stroke="#000" stroke-width="0.95" fill="none" stroke-linejoin="round"/>
<path d="M399.61,352.36 L399.61,351.97 L406.07,351.3 L414.13,350.63 L422.2,350.23 L426.91,350.63 L430.27,347.27 L434.3,343.91 L438.34,338.53 L441.03,339.87 L445.06,341.89 L447.75,339.87 L450.44,335.17 L453.13,328.45 L454.47,323.07 L455.14,321.05 L456.49,323.07 L458.5,331.13 L459.85,339.2 L461.87,345.92 L463.88,350.23 L466.57,351.57 L474.64,351.97 L474.64,352.36 Z" fill="#044617" fill-opacity="0.88" stroke="none"/>
<polyline points="399.61,351.97 406.07,351.3 414.13,350.63 422.2,350.23 426.91,350.63 430.27,347.27 434.3,343.91 438.34,338.53 441.03,339.87 445.06,341.89 447.75,339.87 450.44,335.17 453.13,328.45 454.47,323.07 455.14,321.05 456.49,323.07 458.5,331.13 459.85,339.2 461.87,345.92 463.88,350.23 466.57,351.57 474.64,351.97" stroke="#000" stroke-width="0.95" fill="none" stroke-linejoin="round"/>
<path d="M399.61,365.53 L399.61,365.02 L415.48,364.75 L418.84,362.73 L421.53,364.08 L426.24,363.4 L430.94,361.39 L435.65,358.03 L441.03,353.32 L444.39,351.3 L446.4,353.32 L450.44,347.94 L454.47,342.56 L457.16,339.87 L458.5,343.24 L459.85,352.65 L461.19,359.37 L462.54,362.73 L464.55,364.48 L474.64,365.02 L474.64,365.53 Z" fill="#00350e" fill-opacity="0.88" stroke="none"/>
<polyline points="399.61,365.02 415.48,364.75 418.84,362.73 421.53,364.08 426.24,363.4 430.94,361.39 435.65,358.03 441.03,353.32 444.39,351.3 446.4,353.32 450.44,347.94 454.47,342.56 457.16,339.87 458.5,343.24 459.85,352.65 461.19,359.37 462.54,362.73 464.55,364.48 474.64,365.02" stroke="#000" stroke-width="0.95" fill="none" stroke-linejoin="round"/>
<text x="396" y="241.3" font-size="8" fill="#333" text-anchor="end" >1</text>
<text x="396" y="258.2" font-size="8" fill="#333" text-anchor="end" >2</text>
<text x="396" y="271.4" font-size="8" fill="#333" text-anchor="end" >3</text>
<text x="396" y="284.3" font-size="8" fill="#333" text-anchor="end" >4</text>
<text x="396" y="296.9" font-size="8" fill="#333" text-anchor="end" >5</text>
<text x="396" y="309.8" font-size="8" fill="#333" text-anchor="end" >6</text>
<text x="396" y="323.2" font-size="8" fill="#333" text-anchor="end" >7</text>
<text x="396" y="336.1" font-size="8" fill="#333" text-anchor="end" >8</text>
<text x="396" y="348.8" font-size="8" fill="#333" text-anchor="end" >9</text>
<text x="396" y="362.2" font-size="8" fill="#333" text-anchor="end" >10</text>
<text x="416.3" y="374.9" font-size="7.9" fill="#444" text-anchor="middle" textLength="13.6" lengthAdjust="spacingAndGlyphs" >200</text>
<text x="457.3" y="374.9" font-size="7.9" fill="#444" text-anchor="middle" textLength="13.6" lengthAdjust="spacingAndGlyphs" >250</text>
<text x="437.3" y="388.3" font-size="9.2" fill="#333" text-anchor="middle" textLength="41.8" lengthAdjust="spacingAndGlyphs" >EOS (DOY)</text>
<text x="378.5" y="288.1" font-size="9" fill="#333" text-anchor="middle" transform="rotate(-90 378.5 288.1)" dominant-baseline="central">Buffer</text>
<line x1="503.1" y1="209.1" x2="503.1" y2="365.91" stroke="#999999" stroke-width="0.9" />
<path d="M503.11,264.3 L503.11,264.3 L503.18,228.38 L503.62,223.24 L504.39,233.51 L505.67,251.48 L506.96,260.47 L509.53,263.29 L512.09,262.27 L514.66,263.81 L521.08,264.3 L577.56,264.3 L577.6,264.3 L577.6,264.3 Z" fill="#a9d7a9" fill-opacity="0.88" stroke="none"/>
<polyline points="503.11,264.3 503.18,228.38 503.62,223.24 504.39,233.51 505.67,251.48 506.96,260.47 509.53,263.29 512.09,262.27 514.66,263.81 521.08,264.3 577.56,264.3 577.6,264.3" stroke="#000" stroke-width="0.95" fill="none" stroke-linejoin="round"/>
<path d="M503.11,275.59 L503.11,275.59 L503.18,239.93 L503.88,246.35 L504.9,256.62 L505.67,263.81 L508.24,270.74 L510.81,273.31 L515.94,275.1 L521.08,275.59 L577.56,275.59 L577.6,275.59 L577.6,275.59 Z" fill="#9dd6b9" fill-opacity="0.88" stroke="none"/>
<polyline points="503.11,275.59 503.18,239.93 503.88,246.35 504.9,256.62 505.67,263.81 508.24,270.74 510.81,273.31 515.94,275.1 521.08,275.59 577.56,275.59 577.6,275.59" stroke="#000" stroke-width="0.95" fill="none" stroke-linejoin="round"/>
<path d="M503.11,286.88 L503.11,286.88 L503.18,272.02 L504.39,273.31 L505.67,275.87 L506.53,278.96 L507.39,278.84 L508.24,281.01 L509.1,283.58 L509.95,282.75 L510.81,284.86 L511.54,284.63 L512.28,285.32 L513.01,284.77 L513.74,284.98 L514.48,286.35 L515.21,285.23 L515.94,285.37 L516.68,285.22 L517.41,285.55 L518.14,284.96 L518.88,285.38 L519.61,286.13 L520.34,286.47 L521.08,286.14 L521.79,286.61 L522.5,285.3 L523.22,285.35 L523.93,285.34 L524.64,285.56 L525.36,285.28 L526.07,285.85 L526.78,284.92 L527.5,284.86 L528.78,286.4 L529.51,286.87 L530.25,286.41 L530.98,286.48 L531.71,286.52 L532.45,286.88 L533.18,286.88 L533.92,286.88 L534.62,286.88 L535.32,286.75 L536.03,286.87 L536.73,286.71 L537.44,286.88 L538.14,286.88 L538.84,286.59 L539.55,286.88 L540.25,286.88 L540.95,286.82 L541.66,286.79 L542.36,286.88 L543.07,286.84 L543.77,286.88 L544.47,286.76 L545.18,286.61 L545.88,286.65 L546.59,286.78 L547.29,286.88 L547.99,286.57 L548.7,286.88 L549.4,286.79 L550.11,286.62 L550.81,286.75 L551.51,286.88 L552.22,286.71 L552.92,286.81 L553.63,286.59 L554.33,286.79 L555.03,286.86 L555.74,286.55 L556.44,286.86 L557.15,286.88 L557.85,286.57 L558.55,286.57 L559.26,286.88 L559.96,286.88 L560.67,286.63 L561.37,286.61 L562.07,286.88 L562.78,286.88 L563.48,286.75 L564.19,286.57 L564.89,286.88 L565.59,286.88 L566.3,286.77 L567,286.88 L567.71,286.88 L568.41,286.88 L569.11,286.88 L569.82,286.88 L570.52,286.88 L571.23,286.88 L571.93,286.88 L572.63,286.88 L573.34,286.88 L574.04,286.88 L574.75,286.88 L575.45,286.72 L576.15,286.88 L576.86,286.88 L577.56,286.88 L577.6,286.88 L577.6,286.88 Z" fill="#53bdb7" fill-opacity="0.88" stroke="none"/>
<polyline points="503.11,286.88 503.18,272.02 504.39,273.31 505.67,275.87 506.53,278.96 507.39,278.84 508.24,281.01 509.1,283.58 509.95,282.75 510.81,284.86 511.54,284.63 512.28,285.32 513.01,284.77 513.74,284.98 514.48,286.35 515.21,285.23 515.94,285.37 516.68,285.22 517.41,285.55 518.14,284.96 518.88,285.38 519.61,286.13 520.34,286.47 521.08,286.14 521.79,286.61 522.5,285.3 523.22,285.35 523.93,285.34 524.64,285.56 525.36,285.28 526.07,285.85 526.78,284.92 527.5,284.86 528.78,286.4 529.51,286.87 530.25,286.41 530.98,286.48 531.71,286.52 532.45,286.88 533.18,286.88 533.92,286.88 534.62,286.88 535.32,286.75 536.03,286.87 536.73,286.71 537.44,286.88 538.14,286.88 538.84,286.59 539.55,286.88 540.25,286.88 540.95,286.82 541.66,286.79 542.36,286.88 543.07,286.84 543.77,286.88 544.47,286.76 545.18,286.61 545.88,286.65 546.59,286.78 547.29,286.88 547.99,286.57 548.7,286.88 549.4,286.79 550.11,286.62 550.81,286.75 551.51,286.88 552.22,286.71 552.92,286.81 553.63,286.59 554.33,286.79 555.03,286.86 555.74,286.55 556.44,286.86 557.15,286.88 557.85,286.57 558.55,286.57 559.26,286.88 559.96,286.88 560.67,286.63 561.37,286.61 562.07,286.88 562.78,286.88 563.48,286.75 564.19,286.57 564.89,286.88 565.59,286.88 566.3,286.77 567,286.88 567.71,286.88 568.41,286.88 569.11,286.88 569.82,286.88 570.52,286.88 571.23,286.88 571.93,286.88 572.63,286.88 573.34,286.88 574.04,286.88 574.75,286.88 575.45,286.72 576.15,286.88 576.86,286.88 577.56,286.88 577.6,286.88" stroke="#000" stroke-width="0.95" fill="none" stroke-linejoin="round"/>
<path d="M503.11,298.17 L503.11,298.17 L503.18,288.71 L504.39,287.94 L505.67,289.99 L506.96,289.48 L508.24,292.56 L509.1,291.12 L509.95,293.59 L510.81,293.84 L511.54,293.36 L512.28,293.66 L513.01,296.06 L513.74,296.89 L514.48,295.33 L515.21,297.17 L515.94,296.41 L516.68,296.81 L517.41,295.72 L518.14,295.91 L518.88,297.66 L519.61,297.79 L520.34,297.59 L521.08,297.18 L521.81,296.66 L522.55,298.05 L523.28,297.74 L524.01,297.96 L524.75,297.95 L525.48,297.37 L526.21,297.91 L526.95,297.61 L527.68,297.19 L528.41,297.25 L529.15,297.7 L529.88,297.25 L530.61,297.57 L531.35,297.7 L532.05,297.31 L532.75,298.01 L533.45,297.87 L534.15,297.63 L534.85,297.21 L535.55,297.6 L536.25,297.78 L536.95,298.04 L537.65,298.01 L538.35,298.09 L539.05,297.23 L539.75,297.35 L540.45,297.35 L541.15,297.76 L541.85,297.58 L542.55,298.03 L543.25,297.84 L543.95,298.17 L544.65,297.92 L545.35,298.1 L546.05,298.17 L546.75,297.42 L547.45,298.17 L548.15,297.55 L548.85,297.67 L549.55,298.17 L550.25,297.9 L550.95,297.41 L551.65,297.43 L552.35,297.85 L553.05,297.66 L553.75,297.73 L554.45,298.13 L555.15,297.89 L555.85,297.86 L556.56,298.05 L557.26,297.67 L557.96,298.02 L558.66,297.75 L559.36,298.17 L560.06,298.04 L560.76,298.17 L561.46,297.88 L562.16,297.69 L562.86,297.98 L563.56,297.97 L564.26,297.93 L564.96,298.17 L565.66,298.14 L566.36,297.99 L567.06,297.94 L567.76,298.17 L568.46,298.09 L569.16,298.17 L569.86,298.05 L570.56,297.96 L571.26,298.17 L571.96,297.97 L572.66,297.86 L573.36,298.1 L574.06,297.78 L574.76,298.17 L575.46,297.85 L576.16,298.17 L576.86,298.17 L577.56,298.17 L577.6,298.17 L577.6,298.17 Z" fill="#64c2b9" fill-opacity="0.88" stroke="none"/>
<polyline points="503.11,298.17 503.18,288.71 504.39,287.94 505.67,289.99 506.96,289.48 508.24,292.56 509.1,291.12 509.95,293.59 510.81,293.84 511.54,293.36 512.28,293.66 513.01,296.06 513.74,296.89 514.48,295.33 515.21,297.17 515.94,296.41 516.68,296.81 517.41,295.72 518.14,295.91 518.88,297.66 519.61,297.79 520.34,297.59 521.08,297.18 521.81,296.66 522.55,298.05 523.28,297.74 524.01,297.96 524.75,297.95 525.48,297.37 526.21,297.91 526.95,297.61 527.68,297.19 528.41,297.25 529.15,297.7 529.88,297.25 530.61,297.57 531.35,297.7 532.05,297.31 532.75,298.01 533.45,297.87 534.15,297.63 534.85,297.21 535.55,297.6 536.25,297.78 536.95,298.04 537.65,298.01 538.35,298.09 539.05,297.23 539.75,297.35 540.45,297.35 541.15,297.76 541.85,297.58 542.55,298.03 543.25,297.84 543.95,298.17 544.65,297.92 545.35,298.1 546.05,298.17 546.75,297.42 547.45,298.17 548.15,297.55 548.85,297.67 549.55,298.17 550.25,297.9 550.95,297.41 551.65,297.43 552.35,297.85 553.05,297.66 553.75,297.73 554.45,298.13 555.15,297.89 555.85,297.86 556.56,298.05 557.26,297.67 557.96,298.02 558.66,297.75 559.36,298.17 560.06,298.04 560.76,298.17 561.46,297.88 562.16,297.69 562.86,297.98 563.56,297.97 564.26,297.93 564.96,298.17 565.66,298.14 566.36,297.99 567.06,297.94 567.76,298.17 568.46,298.09 569.16,298.17 569.86,298.05 570.56,297.96 571.26,298.17 571.96,297.97 572.66,297.86 573.36,298.1 574.06,297.78 574.76,298.17 575.46,297.85 576.16,298.17 576.86,298.17 577.56,298.17 577.6,298.17" stroke="#000" stroke-width="0.95" fill="none" stroke-linejoin="round"/>
<path d="M503.11,309.46 L503.11,309.39 L503.62,304.26 L504.65,300.54 L505.67,300.4 L506.53,298.53 L507.39,298.64 L508.24,299.12 L509.27,301.47 L510.3,301.69 L511.19,301.96 L512.09,300.92 L512.95,301.2 L513.8,301.95 L514.66,304.26 L515.43,306.65 L516.2,306.58 L516.97,304.25 L517.74,307.8 L518.51,306.82 L519.24,306.49 L519.98,307.72 L520.71,306.95 L521.45,306.57 L522.18,307.53 L522.91,308.18 L523.65,308.11 L524.35,308.53 L525.05,307.95 L525.75,307.99 L526.45,308.47 L527.15,308.4 L527.85,308.32 L528.55,308.87 L529.25,309.04 L529.95,308.41 L530.65,309.23 L531.35,308.62 L532.05,308.48 L532.75,308.17 L533.45,308.14 L534.15,309.05 L534.85,308.81 L535.55,308.05 L536.25,308.93 L536.95,307.98 L537.65,309.17 L538.35,308.24 L539.05,309.42 L539.75,308.52 L540.45,308.33 L541.15,308.72 L541.85,308.61 L542.55,308.23 L543.25,308.13 L543.95,309.27 L544.65,308.81 L545.35,309.46 L546.05,309.03 L546.75,309.35 L547.45,309.33 L548.15,308.74 L548.85,309.45 L549.55,309.36 L550.25,309.46 L550.95,308.56 L551.65,309.27 L552.35,309.46 L553.05,308.84 L553.75,308.73 L554.45,308.85 L555.15,308.96 L555.85,308.99 L556.56,308.79 L557.26,309.27 L557.96,308.68 L558.66,308.86 L559.36,308.69 L560.06,308.67 L560.76,308.75 L561.46,309.1 L562.16,309.11 L562.86,308.9 L563.56,309.08 L564.26,309.46 L564.96,308.76 L565.66,309.46 L566.36,309.22 L567.06,309.26 L567.76,309.46 L568.46,309.17 L569.16,309.17 L569.86,308.98 L570.56,309.17 L571.26,309.46 L571.96,309.24 L572.66,308.91 L573.36,309.2 L574.06,309.04 L574.76,309.46 L575.46,309.2 L576.16,309.46 L576.86,309.46 L577.56,309.39 L577.6,309.46 L577.6,309.46 Z" fill="#2ea0ca" fill-opacity="0.88" stroke="none"/>
<polyline points="503.11,309.39 503.62,304.26 504.65,300.54 505.67,300.4 506.53,298.53 507.39,298.64 508.24,299.12 509.27,301.47 510.3,301.69 511.19,301.96 512.09,300.92 512.95,301.2 513.8,301.95 514.66,304.26 515.43,306.65 516.2,306.58 516.97,304.25 517.74,307.8 518.51,306.82 519.24,306.49 519.98,307.72 520.71,306.95 521.45,306.57 522.18,307.53 522.91,308.18 523.65,308.11 524.35,308.53 525.05,307.95 525.75,307.99 526.45,308.47 527.15,308.4 527.85,308.32 528.55,308.87 529.25,309.04 529.95,308.41 530.65,309.23 531.35,308.62 532.05,308.48 532.75,308.17 533.45,308.14 534.15,309.05 534.85,308.81 535.55,308.05 536.25,308.93 536.95,307.98 537.65,309.17 538.35,308.24 539.05,309.42 539.75,308.52 540.45,308.33 541.15,308.72 541.85,308.61 542.55,308.23 543.25,308.13 543.95,309.27 544.65,308.81 545.35,309.46 546.05,309.03 546.75,309.35 547.45,309.33 548.15,308.74 548.85,309.45 549.55,309.36 550.25,309.46 550.95,308.56 551.65,309.27 552.35,309.46 553.05,308.84 553.75,308.73 554.45,308.85 555.15,308.96 555.85,308.99 556.56,308.79 557.26,309.27 557.96,308.68 558.66,308.86 559.36,308.69 560.06,308.67 560.76,308.75 561.46,309.1 562.16,309.11 562.86,308.9 563.56,309.08 564.26,309.46 564.96,308.76 565.66,309.46 566.36,309.22 567.06,309.26 567.76,309.46 568.46,309.17 569.16,309.17 569.86,308.98 570.56,309.17 571.26,309.46 571.96,309.24 572.66,308.91 573.36,309.2 574.06,309.04 574.76,309.46 575.46,309.2 576.16,309.46 576.86,309.46 577.56,309.39 577.6,309.46" stroke="#000" stroke-width="0.95" fill="none" stroke-linejoin="round"/>
<path d="M503.11,320.75 L503.11,320.43 L504.39,315.81 L505.67,312.73 L506.53,311 L507.39,312.8 L508.24,311.96 L509.1,311.42 L509.95,311.39 L510.81,313.75 L511.66,315 L512.52,313.74 L513.38,315.3 L514.11,316.2 L514.84,317.12 L515.58,316.66 L516.31,315.34 L517.04,317.95 L517.78,316.21 L518.51,317.09 L519.21,317.84 L519.91,318.71 L520.61,317.86 L521.31,318.19 L522.01,318.06 L522.71,316.72 L523.41,316.81 L524.11,319.27 L524.81,317.08 L525.51,318.41 L526.21,318.89 L526.93,317.72 L527.64,318.15 L528.35,318.95 L529.07,319.68 L529.78,318.05 L530.49,317.94 L531.21,318.89 L531.92,320.12 L532.63,318.54 L533.34,318.73 L534.06,318.53 L534.77,318.39 L535.48,318.45 L536.2,319.01 L536.91,319.75 L537.62,319.51 L538.34,319.61 L539.05,319.66 L539.75,319.19 L540.45,319.46 L541.15,319.11 L541.85,319.69 L542.55,319.57 L543.25,318.92 L543.95,319.24 L544.65,319.02 L545.35,319.44 L546.05,320.44 L546.75,319.95 L547.45,320.18 L548.15,320.24 L548.85,320.47 L549.55,320.51 L550.25,319.91 L550.95,319.44 L551.65,319.33 L552.35,319.19 L553.05,319.81 L553.75,320.71 L554.45,320.44 L555.15,320.65 L555.85,319.44 L556.56,320.28 L557.26,319.69 L557.96,320.11 L558.66,319.93 L559.36,319.56 L560.06,319.86 L560.76,320.69 L561.46,319.92 L562.16,320.32 L562.86,319.49 L563.56,320.46 L564.26,320.51 L564.96,319.62 L565.66,320.3 L566.36,320.74 L567.06,319.85 L567.76,319.71 L568.46,320.26 L569.16,320.67 L569.86,319.83 L570.56,320.48 L571.26,320.6 L571.96,320.75 L572.66,319.9 L573.36,320.65 L574.06,320.75 L574.76,320.52 L575.46,320.17 L576.16,319.87 L576.86,320.72 L577.56,320.43 L577.6,320.75 L577.6,320.75 Z" fill="#34a3cf" fill-opacity="0.88" stroke="none"/>
<polyline points="503.11,320.43 504.39,315.81 505.67,312.73 506.53,311 507.39,312.8 508.24,311.96 509.1,311.42 509.95,311.39 510.81,313.75 511.66,315 512.52,313.74 513.38,315.3 514.11,316.2 514.84,317.12 515.58,316.66 516.31,315.34 517.04,317.95 517.78,316.21 518.51,317.09 519.21,317.84 519.91,318.71 520.61,317.86 521.31,318.19 522.01,318.06 522.71,316.72 523.41,316.81 524.11,319.27 524.81,317.08 525.51,318.41 526.21,318.89 526.93,317.72 527.64,318.15 528.35,318.95 529.07,319.68 529.78,318.05 530.49,317.94 531.21,318.89 531.92,320.12 532.63,318.54 533.34,318.73 534.06,318.53 534.77,318.39 535.48,318.45 536.2,319.01 536.91,319.75 537.62,319.51 538.34,319.61 539.05,319.66 539.75,319.19 540.45,319.46 541.15,319.11 541.85,319.69 542.55,319.57 543.25,318.92 543.95,319.24 544.65,319.02 545.35,319.44 546.05,320.44 546.75,319.95 547.45,320.18 548.15,320.24 548.85,320.47 549.55,320.51 550.25,319.91 550.95,319.44 551.65,319.33 552.35,319.19 553.05,319.81 553.75,320.71 554.45,320.44 555.15,320.65 555.85,319.44 556.56,320.28 557.26,319.69 557.96,320.11 558.66,319.93 559.36,319.56 560.06,319.86 560.76,320.69 561.46,319.92 562.16,320.32 562.86,319.49 563.56,320.46 564.26,320.51 564.96,319.62 565.66,320.3 566.36,320.74 567.06,319.85 567.76,319.71 568.46,320.26 569.16,320.67 569.86,319.83 570.56,320.48 571.26,320.6 571.96,320.75 572.66,319.9 573.36,320.65 574.06,320.75 574.76,320.52 575.46,320.17 576.16,319.87 576.86,320.72 577.56,320.43 577.6,320.75" stroke="#000" stroke-width="0.95" fill="none" stroke-linejoin="round"/>
<path d="M503.11,332.04 L503.11,331.98 L503.96,330.67 L504.82,328.99 L505.67,329.16 L506.53,329.59 L507.39,324.53 L508.24,324.79 L509.1,323.29 L509.95,326.01 L510.81,324.02 L511.58,323.24 L512.35,323.66 L513.12,326.47 L513.89,323.83 L514.66,326.08 L515.43,327.12 L516.2,327.3 L516.97,327.02 L517.74,327.39 L518.51,328.65 L519.21,327.8 L519.91,329.74 L520.61,329.06 L521.31,330.5 L522.01,330.06 L522.71,329.38 L523.41,330.93 L524.11,330.08 L524.81,328.69 L525.51,330.8 L526.21,329.93 L526.96,330.07 L527.71,331.23 L528.46,328.99 L529.21,330.96 L529.96,330.66 L530.71,328.72 L531.45,329.68 L532.2,329.23 L532.95,328.96 L533.7,329.3 L534.45,329.5 L535.2,329.16 L536.48,330.7 L537.18,331.47 L537.88,331.52 L538.58,331.43 L539.28,331.38 L539.98,331.27 L540.68,330.26 L541.38,331.54 L542.08,331.71 L542.78,331.51 L543.48,331.77 L544.18,331.21 L544.89,330.71 L545.61,330.54 L546.32,330.86 L547.03,330.59 L547.74,331.22 L548.45,331.38 L549.16,331.5 L549.87,331.12 L550.58,331.73 L551.29,331.34 L552,331.55 L552.71,331.18 L553.42,330.92 L554.13,331.23 L554.84,331.94 L555.55,331.35 L556.26,331.19 L556.97,331.46 L557.68,332.04 L558.39,332.04 L559.1,331.51 L559.81,331.31 L560.52,331.6 L561.23,331.34 L561.94,331.57 L562.65,331.27 L563.36,331.97 L564.07,331.31 L564.78,331.42 L565.49,332.04 L566.2,332.01 L566.91,331.95 L567.62,331.47 L568.33,331.63 L569.04,332.04 L569.75,331.58 L570.46,332 L571.17,331.5 L571.88,332.04 L572.59,332.04 L573.3,332.03 L574.01,331.93 L574.72,331.98 L575.43,331.9 L576.14,332.04 L576.85,332.04 L577.56,331.98 L577.6,332.04 L577.6,332.04 Z" fill="#0e6fba" fill-opacity="0.88" stroke="none"/>
<polyline points="503.11,331.98 503.96,330.67 504.82,328.99 505.67,329.16 506.53,329.59 507.39,324.53 508.24,324.79 509.1,323.29 509.95,326.01 510.81,324.02 511.58,323.24 512.35,323.66 513.12,326.47 513.89,323.83 514.66,326.08 515.43,327.12 516.2,327.3 516.97,327.02 517.74,327.39 518.51,328.65 519.21,327.8 519.91,329.74 520.61,329.06 521.31,330.5 522.01,330.06 522.71,329.38 523.41,330.93 524.11,330.08 524.81,328.69 525.51,330.8 526.21,329.93 526.96,330.07 527.71,331.23 528.46,328.99 529.21,330.96 529.96,330.66 530.71,328.72 531.45,329.68 532.2,329.23 532.95,328.96 533.7,329.3 534.45,329.5 535.2,329.16 536.48,330.7 537.18,331.47 537.88,331.52 538.58,331.43 539.28,331.38 539.98,331.27 540.68,330.26 541.38,331.54 542.08,331.71 542.78,331.51 543.48,331.77 544.18,331.21 544.89,330.71 545.61,330.54 546.32,330.86 547.03,330.59 547.74,331.22 548.45,331.38 549.16,331.5 549.87,331.12 550.58,331.73 551.29,331.34 552,331.55 552.71,331.18 553.42,330.92 554.13,331.23 554.84,331.94 555.55,331.35 556.26,331.19 556.97,331.46 557.68,332.04 558.39,332.04 559.1,331.51 559.81,331.31 560.52,331.6 561.23,331.34 561.94,331.57 562.65,331.27 563.36,331.97 564.07,331.31 564.78,331.42 565.49,332.04 566.2,332.01 566.91,331.95 567.62,331.47 568.33,331.63 569.04,332.04 569.75,331.58 570.46,332 571.17,331.5 571.88,332.04 572.59,332.04 573.3,332.03 574.01,331.93 574.72,331.98 575.43,331.9 576.14,332.04 576.85,332.04 577.56,331.98 577.6,332.04" stroke="#000" stroke-width="0.95" fill="none" stroke-linejoin="round"/>
<path d="M503.11,343.33 L503.11,343.28 L504.39,343.28 L505.25,342.91 L506.1,341.54 L506.96,340.97 L507.81,338.01 L508.67,338.13 L509.53,337.63 L510.38,337.27 L511.24,337.52 L512.09,336.35 L512.86,338.27 L513.63,335.43 L514.4,336.9 L515.17,339.38 L515.94,338.92 L516.68,338.73 L517.41,338.47 L518.14,337.88 L518.88,340.51 L519.61,340.56 L520.34,341.24 L521.08,340.2 L521.81,339.94 L522.55,338.76 L523.28,339.6 L524.01,341.88 L524.75,341.11 L525.48,342.21 L526.21,341.98 L526.95,340.96 L527.68,342.12 L528.41,341.82 L529.15,341.97 L529.88,341.52 L530.61,340.41 L531.35,341.48 L532.06,342.22 L532.77,341.28 L533.49,341.86 L534.2,342.17 L534.91,342.19 L535.63,341.07 L536.34,340.98 L537.05,341.29 L537.77,340.99 L538.48,341.4 L539.19,342.39 L539.91,342.56 L540.62,341.9 L541.33,341.86 L542.05,341.56 L542.76,341.38 L543.47,341.65 L544.18,342.25 L544.89,341.41 L545.61,341.98 L546.32,341.99 L547.03,341.81 L547.74,342.37 L548.45,341.87 L549.16,341.77 L549.87,342.41 L550.58,342.71 L551.29,342.66 L552,342.31 L552.71,342.41 L553.42,342.54 L554.13,342.73 L554.84,342.22 L555.55,342.33 L556.26,341.99 L556.97,341.99 L557.68,343.33 L558.39,342.83 L559.1,342.38 L559.81,342.69 L560.52,342.6 L561.23,343.09 L561.94,342.94 L562.65,342.37 L563.36,342.64 L564.07,342.41 L564.78,342.4 L565.49,342.42 L566.2,342.52 L566.91,342.49 L567.62,342.54 L568.33,342.54 L569.04,343.11 L569.75,343.13 L570.46,343.11 L571.17,342.83 L571.88,342.66 L572.59,342.97 L573.3,343.21 L574.01,343.33 L574.72,343.33 L575.43,343.33 L576.14,343.33 L576.85,343.33 L577.56,343.28 L577.6,343.33 L577.6,343.33 Z" fill="#0652a2" fill-opacity="0.88" stroke="none"/>
<polyline points="503.11,343.28 504.39,343.28 505.25,342.91 506.1,341.54 506.96,340.97 507.81,338.01 508.67,338.13 509.53,337.63 510.38,337.27 511.24,337.52 512.09,336.35 512.86,338.27 513.63,335.43 514.4,336.9 515.17,339.38 515.94,338.92 516.68,338.73 517.41,338.47 518.14,337.88 518.88,340.51 519.61,340.56 520.34,341.24 521.08,340.2 521.81,339.94 522.55,338.76 523.28,339.6 524.01,341.88 524.75,341.11 525.48,342.21 526.21,341.98 526.95,340.96 527.68,342.12 528.41,341.82 529.15,341.97 529.88,341.52 530.61,340.41 531.35,341.48 532.06,342.22 532.77,341.28 533.49,341.86 534.2,342.17 534.91,342.19 535.63,341.07 536.34,340.98 537.05,341.29 537.77,340.99 538.48,341.4 539.19,342.39 539.91,342.56 540.62,341.9 541.33,341.86 542.05,341.56 542.76,341.38 543.47,341.65 544.18,342.25 544.89,341.41 545.61,341.98 546.32,341.99 547.03,341.81 547.74,342.37 548.45,341.87 549.16,341.77 549.87,342.41 550.58,342.71 551.29,342.66 552,342.31 552.71,342.41 553.42,342.54 554.13,342.73 554.84,342.22 555.55,342.33 556.26,341.99 556.97,341.99 557.68,343.33 558.39,342.83 559.1,342.38 559.81,342.69 560.52,342.6 561.23,343.09 561.94,342.94 562.65,342.37 563.36,342.64 564.07,342.41 564.78,342.4 565.49,342.42 566.2,342.52 566.91,342.49 567.62,342.54 568.33,342.54 569.04,343.11 569.75,343.13 570.46,343.11 571.17,342.83 571.88,342.66 572.59,342.97 573.3,343.21 574.01,343.33 574.72,343.33 575.43,343.33 576.14,343.33 576.85,343.33 577.56,343.28 577.6,343.33" stroke="#000" stroke-width="0.95" fill="none" stroke-linejoin="round"/>
<path d="M503.11,354.62 L503.11,354.32 L504.39,354.32 L505.16,354.39 L505.93,352.62 L506.7,351.77 L507.47,352.63 L508.24,351.75 L509.01,352.11 L509.78,351.91 L510.55,351.85 L511.32,350.81 L512.09,349.18 L512.86,350.09 L513.63,347.29 L514.4,349.62 L515.17,349.37 L515.94,347.9 L516.68,346.49 L517.41,346.79 L518.14,350.22 L518.88,349.62 L519.61,347.28 L520.34,349.87 L521.08,349.7 L521.78,349.34 L522.48,349.23 L523.18,349.54 L523.88,351.99 L524.58,349.53 L525.28,349.32 L525.98,350.88 L526.68,351.42 L527.38,350.09 L528.08,349.19 L528.78,351.24 L529.48,349.61 L530.18,352.59 L530.88,350.51 L531.58,351.65 L532.28,349.85 L532.98,350.05 L533.68,351.95 L534.38,350.58 L535.08,350.77 L535.78,353.46 L536.48,352.27 L537.22,352.62 L537.95,350.99 L538.68,353.24 L539.42,352.67 L540.15,352.16 L540.88,353.02 L541.62,351.85 L542.35,353.58 L543.08,352.5 L543.82,352.68 L544.55,354.08 L545.29,352.19 L546.02,352.27 L546.75,353.04 L547.45,352.23 L548.15,353.81 L548.85,353.05 L549.55,353.94 L550.25,352.66 L550.95,352.96 L551.65,352.39 L552.35,354.05 L553.05,353.82 L553.75,354.22 L554.45,352.48 L555.15,353.09 L555.85,354.13 L556.56,352.98 L557.26,353.58 L557.96,353.69 L558.66,353.01 L559.36,353.14 L560.06,353.62 L560.76,353.99 L561.46,353.84 L562.16,353.87 L562.86,354.23 L563.56,354.27 L564.26,353.67 L564.96,353.05 L565.66,353.69 L566.36,354 L567.06,354.58 L567.76,353.3 L568.46,354.2 L569.16,354.26 L569.86,353.7 L570.56,353.52 L571.26,354.56 L571.96,354.62 L572.66,354.47 L573.36,353.55 L574.06,354.16 L574.76,354.62 L575.46,354.06 L576.16,354.26 L576.86,354.62 L577.56,354.32 L577.6,354.62 L577.6,354.62 Z" fill="#00367f" fill-opacity="0.88" stroke="none"/>
<polyline points="503.11,354.32 504.39,354.32 505.16,354.39 505.93,352.62 506.7,351.77 507.47,352.63 508.24,351.75 509.01,352.11 509.78,351.91 510.55,351.85 511.32,350.81 512.09,349.18 512.86,350.09 513.63,347.29 514.4,349.62 515.17,349.37 515.94,347.9 516.68,346.49 517.41,346.79 518.14,350.22 518.88,349.62 519.61,347.28 520.34,349.87 521.08,349.7 521.78,349.34 522.48,349.23 523.18,349.54 523.88,351.99 524.58,349.53 525.28,349.32 525.98,350.88 526.68,351.42 527.38,350.09 528.08,349.19 528.78,351.24 529.48,349.61 530.18,352.59 530.88,350.51 531.58,351.65 532.28,349.85 532.98,350.05 533.68,351.95 534.38,350.58 535.08,350.77 535.78,353.46 536.48,352.27 537.22,352.62 537.95,350.99 538.68,353.24 539.42,352.67 540.15,352.16 540.88,353.02 541.62,351.85 542.35,353.58 543.08,352.5 543.82,352.68 544.55,354.08 545.29,352.19 546.02,352.27 546.75,353.04 547.45,352.23 548.15,353.81 548.85,353.05 549.55,353.94 550.25,352.66 550.95,352.96 551.65,352.39 552.35,354.05 553.05,353.82 553.75,354.22 554.45,352.48 555.15,353.09 555.85,354.13 556.56,352.98 557.26,353.58 557.96,353.69 558.66,353.01 559.36,353.14 560.06,353.62 560.76,353.99 561.46,353.84 562.16,353.87 562.86,354.23 563.56,354.27 564.26,353.67 564.96,353.05 565.66,353.69 566.36,354 567.06,354.58 567.76,353.3 568.46,354.2 569.16,354.26 569.86,353.7 570.56,353.52 571.26,354.56 571.96,354.62 572.66,354.47 573.36,353.55 574.06,354.16 574.76,354.62 575.46,354.06 576.16,354.26 576.86,354.62 577.56,354.32 577.6,354.62" stroke="#000" stroke-width="0.95" fill="none" stroke-linejoin="round"/>
<path d="M503.11,365.91 L503.11,365.87 L503.84,365.91 L504.57,365.76 L505.31,365.61 L506.04,365.91 L506.77,365.5 L507.51,364.88 L508.24,365.36 L508.97,364.77 L509.71,364.36 L510.44,363.11 L511.18,363.62 L511.91,363.84 L512.64,361.18 L513.38,362.02 L514.11,363.25 L514.84,360.36 L515.58,360.31 L516.31,361.54 L517.04,361.59 L517.78,363.28 L518.51,361.51 L519.28,362.63 L520.05,360.14 L520.82,360.15 L521.59,360.42 L522.36,360.74 L523.08,362.3 L523.79,360.15 L524.5,359.26 L525.21,359.86 L525.93,360.81 L526.64,361.81 L527.35,362.03 L528.07,363.23 L528.78,362.02 L529.51,363.9 L530.25,360.38 L530.98,362.7 L531.71,362.82 L532.45,362.54 L533.18,360.69 L533.92,361.05 L534.65,362.01 L535.38,361.74 L536.12,362.84 L536.85,362.47 L537.58,362.04 L538.32,362.63 L539.05,363.31 L539.75,364.93 L540.45,363.65 L541.15,363.39 L541.85,363.26 L542.55,362.66 L543.25,363.23 L543.95,364.33 L544.65,364.29 L545.35,363.69 L546.05,363.9 L546.75,364.59 L547.45,364.91 L548.15,364.86 L548.85,364.45 L549.55,364.72 L550.25,364.41 L550.95,364.08 L551.65,364.95 L552.35,364.68 L553.05,365.4 L553.75,364.32 L554.45,364.56 L555.15,364.76 L555.85,365.24 L556.56,365.68 L557.26,365.44 L557.96,365.44 L558.66,364.66 L559.36,365 L560.06,364.61 L560.76,364.53 L561.46,365.54 L562.16,365.72 L562.86,364.95 L563.56,365.39 L564.26,364.88 L564.96,365.42 L565.66,365.72 L566.36,364.86 L567.06,365.14 L567.76,365.11 L568.46,365.26 L569.16,365.02 L569.86,365.14 L570.56,365.91 L571.26,365.91 L571.96,365.91 L572.66,365.44 L573.36,365.7 L574.06,365.54 L574.76,365.91 L575.46,365.91 L576.16,365.51 L576.86,365.75 L577.56,365.87 L577.6,365.91 L577.6,365.91 Z" fill="#001f57" fill-opacity="0.88" stroke="none"/>
<polyline points="503.11,365.87 503.84,365.91 504.57,365.76 505.31,365.61 506.04,365.91 506.77,365.5 507.51,364.88 508.24,365.36 508.97,364.77 509.71,364.36 510.44,363.11 511.18,363.62 511.91,363.84 512.64,361.18 513.38,362.02 514.11,363.25 514.84,360.36 515.58,360.31 516.31,361.54 517.04,361.59 517.78,363.28 518.51,361.51 519.28,362.63 520.05,360.14 520.82,360.15 521.59,360.42 522.36,360.74 523.08,362.3 523.79,360.15 524.5,359.26 525.21,359.86 525.93,360.81 526.64,361.81 527.35,362.03 528.07,363.23 528.78,362.02 529.51,363.9 530.25,360.38 530.98,362.7 531.71,362.82 532.45,362.54 533.18,360.69 533.92,361.05 534.65,362.01 535.38,361.74 536.12,362.84 536.85,362.47 537.58,362.04 538.32,362.63 539.05,363.31 539.75,364.93 540.45,363.65 541.15,363.39 541.85,363.26 542.55,362.66 543.25,363.23 543.95,364.33 544.65,364.29 545.35,363.69 546.05,363.9 546.75,364.59 547.45,364.91 548.15,364.86 548.85,364.45 549.55,364.72 550.25,364.41 550.95,364.08 551.65,364.95 552.35,364.68 553.05,365.4 553.75,364.32 554.45,364.56 555.15,364.76 555.85,365.24 556.56,365.68 557.26,365.44 557.96,365.44 558.66,364.66 559.36,365 560.06,364.61 560.76,364.53 561.46,365.54 562.16,365.72 562.86,364.95 563.56,365.39 564.26,364.88 564.96,365.42 565.66,365.72 566.36,364.86 567.06,365.14 567.76,365.11 568.46,365.26 569.16,365.02 569.86,365.14 570.56,365.91 571.26,365.91 571.96,365.91 572.66,365.44 573.36,365.7 574.06,365.54 574.76,365.91 575.46,365.91 576.16,365.51 576.86,365.75 577.56,365.87 577.6,365.91" stroke="#000" stroke-width="0.95" fill="none" stroke-linejoin="round"/>
<text x="499.5" y="247.9" font-size="8" fill="#333" text-anchor="end" >1</text>
<text x="499.5" y="274.4" font-size="8" fill="#333" text-anchor="end" >2</text>
<text x="499.5" y="285.2" font-size="8" fill="#333" text-anchor="end" >3</text>
<text x="499.5" y="296.2" font-size="8" fill="#333" text-anchor="end" >4</text>
<text x="499.5" y="307.9" font-size="8" fill="#333" text-anchor="end" >5</text>
<text x="499.5" y="319.2" font-size="8" fill="#333" text-anchor="end" >6</text>
<text x="499.5" y="329.7" font-size="8" fill="#333" text-anchor="end" >7</text>
<text x="499.5" y="341" font-size="8" fill="#333" text-anchor="end" >8</text>
<text x="499.5" y="352.1" font-size="8" fill="#333" text-anchor="end" >9</text>
<text x="499.5" y="363.6" font-size="8" fill="#333" text-anchor="end" >10</text>
<text x="502.6" y="374.6" font-size="7.9" fill="#444" text-anchor="middle" >0</text>
<text x="540.3" y="374.6" font-size="7.9" fill="#444" text-anchor="middle" >50</text>
<text x="577.6" y="374.6" font-size="7.9" fill="#444" text-anchor="middle" >100</text>
<text x="541.6" y="387.4" font-size="9" fill="#333" text-anchor="middle" textLength="76" lengthAdjust="spacingAndGlyphs">ALAN (nW cm<tspan font-size="6" dy="-3">−2</tspan><tspan dy="3"> sr</tspan><tspan font-size="6" dy="-3">−1</tspan><tspan dy="3">)</tspan></text>
<line x1="609.9" y1="209.2" x2="609.9" y2="365.14" stroke="#999999" stroke-width="0.9" />
<path d="M609.94,247.6 L609.94,247.57 L625.34,247.57 L630.23,245.12 L633.9,243.9 L636.83,240.97 L641.23,245.12 L646.12,241.94 L652.24,239.01 L657.13,232.9 L660.79,229.23 L664.46,221.41 L668.13,229.23 L671.8,239.01 L675.46,243.9 L679.13,246.34 L682.8,245.12 L685,243.9 L685,247.6 Z" fill="#f89d00" fill-opacity="0.88" stroke="none"/>
<polyline points="609.94,247.57 625.34,247.57 630.23,245.12 633.9,243.9 636.83,240.97 641.23,245.12 646.12,241.94 652.24,239.01 657.13,232.9 660.79,229.23 664.46,221.41 668.13,229.23 671.8,239.01 675.46,243.9 679.13,246.34 682.8,245.12 685,243.9" stroke="#000" stroke-width="0.95" fill="none" stroke-linejoin="round"/>
<path d="M609.94,260.66 L609.94,260.66 L625.34,260.66 L631.45,258.08 L636.83,254.9 L641.23,258.08 L646.12,256.61 L652.24,253.68 L657.13,250.01 L659.57,242.68 L663.24,239.01 L666.91,235.34 L669.35,232.9 L671.8,239.01 L674.24,248.79 L677.91,254.9 L681.58,259.06 L685,259.79 L685,260.66 Z" fill="#f69902" fill-opacity="0.88" stroke="none"/>
<polyline points="609.94,260.66 625.34,260.66 631.45,258.08 636.83,254.9 641.23,258.08 646.12,256.61 652.24,253.68 657.13,250.01 659.57,242.68 663.24,239.01 666.91,235.34 669.35,232.9 671.8,239.01 674.24,248.79 677.91,254.9 681.58,259.06 685,259.79" stroke="#000" stroke-width="0.95" fill="none" stroke-linejoin="round"/>
<path d="M609.94,273.72 L609.94,273.72 L625.34,273.72 L630.23,272.02 L636.83,267.37 L641.23,270.79 L646.12,269.57 L649.79,267.13 L655.9,266.64 L659.57,256.12 L663.24,258.08 L665.68,253.68 L669.35,243.9 L671.8,253.68 L674.24,263.46 L677.91,270.79 L681.58,273.24 L685,273.72 L685,273.72 Z" fill="#e97c04" fill-opacity="0.88" stroke="none"/>
<polyline points="609.94,273.72 625.34,273.72 630.23,272.02 636.83,267.37 641.23,270.79 646.12,269.57 649.79,267.13 655.9,266.64 659.57,256.12 663.24,258.08 665.68,253.68 669.35,243.9 671.8,253.68 674.24,263.46 677.91,270.79 681.58,273.24 685,273.72" stroke="#000" stroke-width="0.95" fill="none" stroke-linejoin="round"/>
<path d="M609.94,286.78 L609.94,286.78 L625.34,286.78 L630.23,285.46 L636.34,280.57 L641.23,283.51 L647.35,281.8 L651.01,280.09 L655.9,280.57 L659.57,268.35 L663.24,272.02 L665.68,267.13 L668.62,257.35 L671.8,268.35 L674.24,278.13 L677.91,284.24 L681.58,286.69 L685,286.78 L685,286.78 Z" fill="#e37400" fill-opacity="0.88" stroke="none"/>
<polyline points="609.94,286.78 625.34,286.78 630.23,285.46 636.34,280.57 641.23,283.51 647.35,281.8 651.01,280.09 655.9,280.57 659.57,268.35 663.24,272.02 665.68,267.13 668.62,257.35 671.8,268.35 674.24,278.13 677.91,284.24 681.58,286.69 685,286.78" stroke="#000" stroke-width="0.95" fill="none" stroke-linejoin="round"/>
<path d="M610,299.84 L610,299.84 L628,299.84 L634.7,297.84 L638.5,294.34 L642.2,296.84 L648.5,292.34 L652.5,295.34 L656,292.34 L658.5,287.34 L660.5,281.84 L662.5,277.84 L664.8,280.84 L666.8,277.34 L668.6,274.84 L670.2,278.84 L672,283.34 L674.5,288.84 L676.5,293.84 L678.5,296.64 L681,297.64 L685,298.04 L685,299.84 Z" fill="#db6e00" fill-opacity="0.88" stroke="none"/>
<polyline points="610,299.84 628,299.84 634.7,297.84 638.5,294.34 642.2,296.84 648.5,292.34 652.5,295.34 656,292.34 658.5,287.34 660.5,281.84 662.5,277.84 664.8,280.84 666.8,277.34 668.6,274.84 670.2,278.84 672,283.34 674.5,288.84 676.5,293.84 678.5,296.64 681,297.64 685,298.04" stroke="#000" stroke-width="0.95" fill="none" stroke-linejoin="round"/>
<path d="M610,312.9 L610,312.9 L628,312.9 L634.7,310.7 L637.4,308 L642.8,310.7 L649.5,306.2 L653.5,308.9 L656.2,305.9 L658.3,301.4 L659.4,297.6 L662.1,295.4 L664.3,294.3 L666.5,291 L668.2,287.2 L669.3,286.6 L670.4,288.8 L672,293.2 L673.7,296.5 L674.8,298.7 L676.4,304.2 L678.1,308.6 L679.7,310.8 L683,311.4 L685,311.9 L685,312.9 Z" fill="#d36900" fill-opacity="0.88" stroke="none"/>
<polyline points="610,312.9 628,312.9 634.7,310.7 637.4,308 642.8,310.7 649.5,306.2 653.5,308.9 656.2,305.9 658.3,301.4 659.4,297.6 662.1,295.4 664.3,294.3 666.5,291 668.2,287.2 669.3,286.6 670.4,288.8 672,293.2 673.7,296.5 674.8,298.7 676.4,304.2 678.1,308.6 679.7,310.8 683,311.4 685,311.9" stroke="#000" stroke-width="0.95" fill="none" stroke-linejoin="round"/>
<path d="M610,325.96 L610,325.86 L628.01,325.86 L634.73,323.98 L638.76,321.29 L644.14,323.98 L649.52,321.29 L654.89,320.48 L658.92,315.91 L661.61,309.19 L665.65,303.82 L668.87,301.13 L672.37,305.16 L676.4,315.91 L679.09,323.98 L681.77,325.32 L685,325.86 L685,325.96 Z" fill="#c35c00" fill-opacity="0.88" stroke="none"/>
<polyline points="610,325.86 628.01,325.86 634.73,323.98 638.76,321.29 644.14,323.98 649.52,321.29 654.89,320.48 658.92,315.91 661.61,309.19 665.65,303.82 668.87,301.13 672.37,305.16 676.4,315.91 679.09,323.98 681.77,325.32 685,325.86" stroke="#000" stroke-width="0.95" fill="none" stroke-linejoin="round"/>
<path d="M610,339.02 L610,339.02 L628.01,339.02 L634.73,337.42 L638.76,334.73 L644.14,337.42 L649.52,334.73 L654.89,333.39 L658.92,329.35 L661.61,321.29 L665.65,315.91 L669.68,314.57 L672.37,318.6 L676.4,329.35 L679.09,337.42 L681.77,338.76 L685,339.02 L685,339.02 Z" fill="#b65300" fill-opacity="0.88" stroke="none"/>
<polyline points="610,339.02 628.01,339.02 634.73,337.42 638.76,334.73 644.14,337.42 649.52,334.73 654.89,333.39 658.92,329.35 661.61,321.29 665.65,315.91 669.68,314.57 672.37,318.6 676.4,329.35 679.09,337.42 681.77,338.76 685,339.02" stroke="#000" stroke-width="0.95" fill="none" stroke-linejoin="round"/>
<path d="M610,352.08 L610,352.08 L628.01,352.08 L633.39,350.86 L637.42,349.52 L641.45,346.29 L645.48,349.52 L650.86,347.63 L656.24,346.29 L660.27,340.11 L664.3,333.39 L668.33,326.67 L671.02,328.01 L673.71,333.39 L677.74,342.8 L680.43,350.86 L685,352.08 L685,352.08 Z" fill="#994400" fill-opacity="0.88" stroke="none"/>
<polyline points="610,352.08 628.01,352.08 633.39,350.86 637.42,349.52 641.45,346.29 645.48,349.52 650.86,347.63 656.24,346.29 660.27,340.11 664.3,333.39 668.33,326.67 671.02,328.01 673.71,333.39 677.74,342.8 680.43,350.86 685,352.08" stroke="#000" stroke-width="0.95" fill="none" stroke-linejoin="round"/>
<path d="M610,365.14 L610,365.11 L628.01,365.11 L633.39,363.49 L637.42,362.42 L641.45,360.27 L644.14,362.96 L649.52,361.61 L654.89,360.27 L657.58,357.58 L661.61,349.52 L665.65,345.48 L669.68,342.8 L672.37,343.6 L675.05,350.86 L677.74,358.92 L680.43,364.3 L685,365.11 L685,365.14 Z" fill="#7d3200" fill-opacity="0.88" stroke="none"/>
<polyline points="610,365.11 628.01,365.11 633.39,363.49 637.42,362.42 641.45,360.27 644.14,362.96 649.52,361.61 654.89,360.27 657.58,357.58 661.61,349.52 665.65,345.48 669.68,342.8 672.37,343.6 675.05,350.86 677.74,358.92 680.43,364.3 685,365.11" stroke="#000" stroke-width="0.95" fill="none" stroke-linejoin="round"/>
<text x="606.5" y="238.2" font-size="8" fill="#333" text-anchor="end" >1</text>
<text x="606.5" y="257.8" font-size="8" fill="#333" text-anchor="end" >2</text>
<text x="606.5" y="270.8" font-size="8" fill="#333" text-anchor="end" >3</text>
<text x="606.5" y="284" font-size="8" fill="#333" text-anchor="end" >4</text>
<text x="606.5" y="297.3" font-size="8" fill="#333" text-anchor="end" >5</text>
<text x="606.5" y="310.2" font-size="8" fill="#333" text-anchor="end" >6</text>
<text x="606.5" y="322.9" font-size="8" fill="#333" text-anchor="end" >7</text>
<text x="606.5" y="336.3" font-size="8" fill="#333" text-anchor="end" >8</text>
<text x="606.5" y="349.2" font-size="8" fill="#333" text-anchor="end" >9</text>
<text x="606.5" y="361.8" font-size="8" fill="#333" text-anchor="end" >10</text>
<text x="617.8" y="374.9" font-size="7.9" fill="#444" text-anchor="middle" >20</text>
<text x="659.7" y="374.9" font-size="7.9" fill="#444" text-anchor="middle" >30</text>
<text x="646.9" y="388.4" font-size="9.2" fill="#333" text-anchor="middle" textLength="24.2" lengthAdjust="spacingAndGlyphs"><tspan font-style="italic">T</tspan><tspan font-size="5.6" dy="2.4">a</tspan><tspan dy="-2.4"> (°C)</tspan></text>
<text x="374" y="9.5" font-size="12.0" fill="#000" text-anchor="start" font-weight="bold" >b</text>
<text x="374" y="200.8" font-size="12.0" fill="#000" text-anchor="start" font-weight="bold" >d</text>
</svg></body></html>
